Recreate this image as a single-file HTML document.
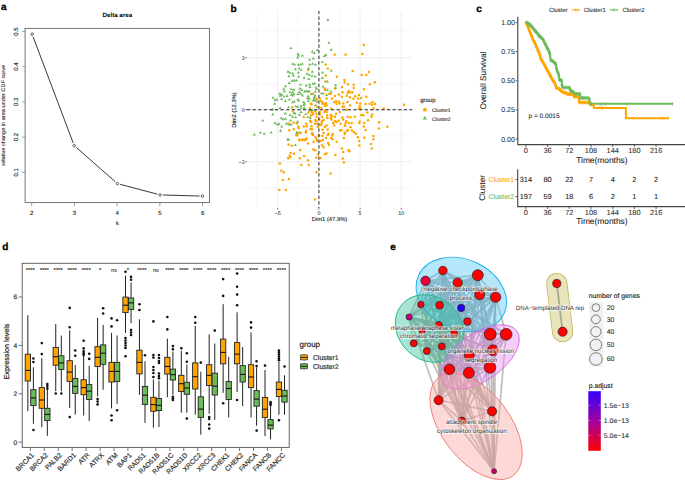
<!DOCTYPE html>
<html><head><meta charset="utf-8"><style>
html,body{margin:0;padding:0;background:#fff;width:685px;height:482px;overflow:hidden}
svg{display:block}
text{font-family:"Liberation Sans",sans-serif;text-rendering:geometricPrecision}
</style></head><body>
<svg width="685" height="482" viewBox="0 0 685 482">
<rect width="685" height="482" fill="#fff"/>
<text x="1" y="10" font-size="10" font-weight="bold" stroke="#000" stroke-width="0.3" font-family="Liberation Sans, sans-serif">a</text>
<text x="117.3" y="16.8" font-size="6.2" font-weight="bold" text-anchor="middle" font-family="Liberation Sans, sans-serif">Delta area</text>
<rect x="25.1" y="28.4" width="184.4" height="174.2" fill="none" stroke="#666" stroke-width="0.9"/>
<line x1="22.2" y1="172.30" x2="25.1" y2="172.30" stroke="#888" stroke-width="0.8"/>
<text transform="translate(17.8,172.30) rotate(-90)" font-size="6" text-anchor="middle" fill="#222" font-family="Liberation Sans, sans-serif" stroke="#222" stroke-width="0.12">0.1</text>
<line x1="22.2" y1="137.10" x2="25.1" y2="137.10" stroke="#888" stroke-width="0.8"/>
<text transform="translate(17.8,137.10) rotate(-90)" font-size="6" text-anchor="middle" fill="#222" font-family="Liberation Sans, sans-serif" stroke="#222" stroke-width="0.12">0.2</text>
<line x1="22.2" y1="101.90" x2="25.1" y2="101.90" stroke="#888" stroke-width="0.8"/>
<text transform="translate(17.8,101.90) rotate(-90)" font-size="6" text-anchor="middle" fill="#222" font-family="Liberation Sans, sans-serif" stroke="#222" stroke-width="0.12">0.3</text>
<line x1="22.2" y1="66.70" x2="25.1" y2="66.70" stroke="#888" stroke-width="0.8"/>
<text transform="translate(17.8,66.70) rotate(-90)" font-size="6" text-anchor="middle" fill="#222" font-family="Liberation Sans, sans-serif" stroke="#222" stroke-width="0.12">0.4</text>
<line x1="22.2" y1="31.50" x2="25.1" y2="31.50" stroke="#888" stroke-width="0.8"/>
<text transform="translate(17.8,31.50) rotate(-90)" font-size="6" text-anchor="middle" fill="#222" font-family="Liberation Sans, sans-serif" stroke="#222" stroke-width="0.12">0.5</text>
<line x1="31.70" y1="202.6" x2="31.70" y2="206.2" stroke="#888" stroke-width="0.8"/>
<text x="31.70" y="215.2" font-size="6" text-anchor="middle" fill="#222" font-family="Liberation Sans, sans-serif" stroke="#222" stroke-width="0.12">2</text>
<line x1="74.42" y1="202.6" x2="74.42" y2="206.2" stroke="#888" stroke-width="0.8"/>
<text x="74.42" y="215.2" font-size="6" text-anchor="middle" fill="#222" font-family="Liberation Sans, sans-serif" stroke="#222" stroke-width="0.12">3</text>
<line x1="117.14" y1="202.6" x2="117.14" y2="206.2" stroke="#888" stroke-width="0.8"/>
<text x="117.14" y="215.2" font-size="6" text-anchor="middle" fill="#222" font-family="Liberation Sans, sans-serif" stroke="#222" stroke-width="0.12">4</text>
<line x1="159.86" y1="202.6" x2="159.86" y2="206.2" stroke="#888" stroke-width="0.8"/>
<text x="159.86" y="215.2" font-size="6" text-anchor="middle" fill="#222" font-family="Liberation Sans, sans-serif" stroke="#222" stroke-width="0.12">5</text>
<line x1="202.58" y1="202.6" x2="202.58" y2="206.2" stroke="#888" stroke-width="0.8"/>
<text x="202.58" y="215.2" font-size="6" text-anchor="middle" fill="#222" font-family="Liberation Sans, sans-serif" stroke="#222" stroke-width="0.12">6</text>
<text x="117.3" y="224.5" font-size="5.6" text-anchor="middle" fill="#222" font-family="Liberation Sans, sans-serif" stroke="#222" stroke-width="0.12">k</text>
<text transform="translate(5.0,115.3) rotate(-90)" font-size="5.3" text-anchor="middle" fill="#333" textLength="100.8" lengthAdjust="spacingAndGlyphs" font-family="Liberation Sans, sans-serif" stroke="#333" stroke-width="0.12">relative change in area under CDF curve</text>
<line x1="33.09" y1="36.82" x2="73.21" y2="142.98" stroke="#222" stroke-width="0.9"/>
<line x1="76.30" y1="147.45" x2="115.30" y2="181.75" stroke="#222" stroke-width="0.9"/>
<line x1="120.11" y1="184.32" x2="157.39" y2="194.18" stroke="#222" stroke-width="0.9"/>
<line x1="162.90" y1="194.98" x2="199.60" y2="196.02" stroke="#222" stroke-width="0.9"/>
<circle cx="32.10" cy="34.20" r="1.25" fill="none" stroke="#222" stroke-width="0.7"/>
<circle cx="74.20" cy="145.60" r="1.25" fill="none" stroke="#222" stroke-width="0.7"/>
<circle cx="117.40" cy="183.60" r="1.25" fill="none" stroke="#222" stroke-width="0.7"/>
<circle cx="160.10" cy="194.90" r="1.25" fill="none" stroke="#222" stroke-width="0.7"/>
<circle cx="202.40" cy="196.10" r="1.25" fill="none" stroke="#222" stroke-width="0.7"/>
<text x="230.5" y="11.5" font-size="10" font-weight="bold" stroke="#000" stroke-width="0.3" font-family="Liberation Sans, sans-serif">b</text>
<line x1="257.10" y1="10.9" x2="257.10" y2="208.0" stroke="#F2F2F2" stroke-width="0.6"/>
<line x1="298.30" y1="10.9" x2="298.30" y2="208.0" stroke="#F2F2F2" stroke-width="0.6"/>
<line x1="339.50" y1="10.9" x2="339.50" y2="208.0" stroke="#F2F2F2" stroke-width="0.6"/>
<line x1="380.70" y1="10.9" x2="380.70" y2="208.0" stroke="#F2F2F2" stroke-width="0.6"/>
<line x1="247.0" y1="187.69" x2="411.9" y2="187.69" stroke="#F2F2F2" stroke-width="0.6"/>
<line x1="247.0" y1="135.69" x2="411.9" y2="135.69" stroke="#F2F2F2" stroke-width="0.6"/>
<line x1="247.0" y1="83.71" x2="411.9" y2="83.71" stroke="#F2F2F2" stroke-width="0.6"/>
<line x1="247.0" y1="31.72" x2="411.9" y2="31.72" stroke="#F2F2F2" stroke-width="0.6"/>
<line x1="277.70" y1="10.9" x2="277.70" y2="208.0" stroke="#E8E8E8" stroke-width="0.8"/>
<line x1="318.90" y1="10.9" x2="318.90" y2="208.0" stroke="#E8E8E8" stroke-width="0.8"/>
<line x1="360.10" y1="10.9" x2="360.10" y2="208.0" stroke="#E8E8E8" stroke-width="0.8"/>
<line x1="401.30" y1="10.9" x2="401.30" y2="208.0" stroke="#E8E8E8" stroke-width="0.8"/>
<line x1="247.0" y1="161.69" x2="411.9" y2="161.69" stroke="#E8E8E8" stroke-width="0.8"/>
<line x1="247.0" y1="109.70" x2="411.9" y2="109.70" stroke="#E8E8E8" stroke-width="0.8"/>
<line x1="247.0" y1="57.71" x2="411.9" y2="57.71" stroke="#E8E8E8" stroke-width="0.8"/>
<line x1="277.70" y1="208" x2="277.70" y2="209.5" stroke="#333" stroke-width="0.7"/>
<text x="277.70" y="215.2" font-size="5.3" text-anchor="middle" fill="#4D4D4D" font-family="Liberation Sans, sans-serif" stroke="#4D4D4D" stroke-width="0.12">−5</text>
<line x1="318.90" y1="208" x2="318.90" y2="209.5" stroke="#333" stroke-width="0.7"/>
<text x="318.90" y="215.2" font-size="5.3" text-anchor="middle" fill="#4D4D4D" font-family="Liberation Sans, sans-serif" stroke="#4D4D4D" stroke-width="0.12">0</text>
<line x1="360.10" y1="208" x2="360.10" y2="209.5" stroke="#333" stroke-width="0.7"/>
<text x="360.10" y="215.2" font-size="5.3" text-anchor="middle" fill="#4D4D4D" font-family="Liberation Sans, sans-serif" stroke="#4D4D4D" stroke-width="0.12">5</text>
<line x1="401.30" y1="208" x2="401.30" y2="209.5" stroke="#333" stroke-width="0.7"/>
<text x="401.30" y="215.2" font-size="5.3" text-anchor="middle" fill="#4D4D4D" font-family="Liberation Sans, sans-serif" stroke="#4D4D4D" stroke-width="0.12">10</text>
<line x1="245.5" y1="161.69" x2="247" y2="161.69" stroke="#333" stroke-width="0.7"/>
<text x="244.6" y="163.59" font-size="5.3" text-anchor="end" fill="#4D4D4D" font-family="Liberation Sans, sans-serif" stroke="#4D4D4D" stroke-width="0.12">−3</text>
<line x1="245.5" y1="109.70" x2="247" y2="109.70" stroke="#333" stroke-width="0.7"/>
<text x="244.6" y="111.60" font-size="5.3" text-anchor="end" fill="#4D4D4D" font-family="Liberation Sans, sans-serif" stroke="#4D4D4D" stroke-width="0.12">0</text>
<line x1="245.5" y1="57.71" x2="247" y2="57.71" stroke="#333" stroke-width="0.7"/>
<text x="244.6" y="59.61" font-size="5.3" text-anchor="end" fill="#4D4D4D" font-family="Liberation Sans, sans-serif" stroke="#4D4D4D" stroke-width="0.12">3</text>
<text x="329.5" y="221.4" font-size="5.8" text-anchor="middle" fill="#222" font-family="Liberation Sans, sans-serif" stroke="#222" stroke-width="0.12">Dim1 (47.9%)</text>
<text transform="translate(236.3,110) rotate(-90)" font-size="5.8" text-anchor="middle" fill="#222" font-family="Liberation Sans, sans-serif" stroke="#222" stroke-width="0.12">Dim2 (12.3%)</text>
<circle cx="302.7" cy="139.9" r="1.25" fill="#FFA500"/>
<circle cx="305.6" cy="139.4" r="1.25" fill="#FFA500"/>
<circle cx="298.4" cy="126.8" r="1.25" fill="#FFA500"/>
<circle cx="300.6" cy="132.9" r="1.25" fill="#FFA500"/>
<circle cx="297.3" cy="135.5" r="1.25" fill="#FFA500"/>
<circle cx="310.4" cy="129.0" r="1.25" fill="#FFA500"/>
<circle cx="312.5" cy="133.3" r="1.25" fill="#FFA500"/>
<circle cx="334.7" cy="54.6" r="1.25" fill="#FFA500"/>
<circle cx="325.8" cy="64.4" r="1.25" fill="#FFA500"/>
<circle cx="327.9" cy="68.5" r="1.25" fill="#FFA500"/>
<circle cx="325.8" cy="75.4" r="1.25" fill="#FFA500"/>
<circle cx="336.8" cy="76.8" r="1.25" fill="#FFA500"/>
<circle cx="325.4" cy="81.6" r="1.25" fill="#FFA500"/>
<circle cx="299.3" cy="139.8" r="1.25" fill="#FFA500"/>
<circle cx="302.5" cy="139.6" r="1.25" fill="#FFA500"/>
<circle cx="305.6" cy="139.2" r="1.25" fill="#FFA500"/>
<circle cx="306.8" cy="138.6" r="1.25" fill="#FFA500"/>
<circle cx="296.2" cy="134.9" r="1.25" fill="#FFA500"/>
<circle cx="299.3" cy="132.4" r="1.25" fill="#FFA500"/>
<circle cx="305.6" cy="132.4" r="1.25" fill="#FFA500"/>
<circle cx="306.2" cy="131.1" r="1.25" fill="#FFA500"/>
<circle cx="311.8" cy="129.2" r="1.25" fill="#FFA500"/>
<circle cx="311.8" cy="133.6" r="1.25" fill="#FFA500"/>
<circle cx="313.0" cy="134.9" r="1.25" fill="#FFA500"/>
<circle cx="315.5" cy="137.3" r="1.25" fill="#FFA500"/>
<circle cx="316.8" cy="139.2" r="1.25" fill="#FFA500"/>
<circle cx="298.7" cy="128.0" r="1.25" fill="#FFA500"/>
<circle cx="296.8" cy="123.6" r="1.25" fill="#FFA500"/>
<circle cx="308.0" cy="69.9" r="1.25" fill="#FFA500"/>
<circle cx="292.2" cy="107.2" r="1.25" fill="#FFA500"/>
<circle cx="292.7" cy="111.4" r="1.25" fill="#FFA500"/>
<circle cx="288.6" cy="123.8" r="1.25" fill="#FFA500"/>
<circle cx="293.8" cy="122.8" r="1.25" fill="#FFA500"/>
<circle cx="289.1" cy="130.3" r="1.25" fill="#FFA500"/>
<circle cx="293.8" cy="129.2" r="1.25" fill="#FFA500"/>
<circle cx="363.7" cy="45.0" r="1.25" fill="#FFA500"/>
<circle cx="345.6" cy="54.7" r="1.25" fill="#FFA500"/>
<circle cx="362.4" cy="53.9" r="1.25" fill="#FFA500"/>
<circle cx="352.7" cy="70.9" r="1.25" fill="#FFA500"/>
<circle cx="368.9" cy="72.1" r="1.25" fill="#FFA500"/>
<circle cx="361.8" cy="74.9" r="1.25" fill="#FFA500"/>
<circle cx="366.4" cy="74.9" r="1.25" fill="#FFA500"/>
<circle cx="344.4" cy="80.1" r="1.25" fill="#FFA500"/>
<circle cx="344.7" cy="82.6" r="1.25" fill="#FFA500"/>
<circle cx="348.1" cy="84.2" r="1.25" fill="#FFA500"/>
<circle cx="353.7" cy="84.8" r="1.25" fill="#FFA500"/>
<circle cx="369.9" cy="84.2" r="1.25" fill="#FFA500"/>
<circle cx="374.9" cy="82.3" r="1.25" fill="#FFA500"/>
<circle cx="341.9" cy="87.1" r="1.25" fill="#FFA500"/>
<circle cx="353.7" cy="87.9" r="1.25" fill="#FFA500"/>
<circle cx="363.9" cy="89.2" r="1.25" fill="#FFA500"/>
<circle cx="348.7" cy="91.1" r="1.25" fill="#FFA500"/>
<circle cx="347.7" cy="92.9" r="1.25" fill="#FFA500"/>
<circle cx="350.0" cy="92.6" r="1.25" fill="#FFA500"/>
<circle cx="352.2" cy="92.3" r="1.25" fill="#FFA500"/>
<circle cx="346.8" cy="95.8" r="1.25" fill="#FFA500"/>
<circle cx="350.0" cy="97.3" r="1.25" fill="#FFA500"/>
<circle cx="355.2" cy="96.3" r="1.25" fill="#FFA500"/>
<circle cx="358.9" cy="95.0" r="1.25" fill="#FFA500"/>
<circle cx="366.4" cy="96.7" r="1.25" fill="#FFA500"/>
<circle cx="353.4" cy="98.8" r="1.25" fill="#FFA500"/>
<circle cx="358.1" cy="98.8" r="1.25" fill="#FFA500"/>
<circle cx="361.2" cy="97.9" r="1.25" fill="#FFA500"/>
<circle cx="347.5" cy="101.9" r="1.25" fill="#FFA500"/>
<circle cx="356.8" cy="102.7" r="1.25" fill="#FFA500"/>
<circle cx="360.2" cy="103.5" r="1.25" fill="#FFA500"/>
<circle cx="350.0" cy="105.6" r="1.25" fill="#FFA500"/>
<circle cx="365.5" cy="104.0" r="1.25" fill="#FFA500"/>
<circle cx="369.7" cy="103.7" r="1.25" fill="#FFA500"/>
<circle cx="372.4" cy="102.2" r="1.25" fill="#FFA500"/>
<circle cx="372.1" cy="104.7" r="1.25" fill="#FFA500"/>
<circle cx="375.1" cy="104.0" r="1.25" fill="#FFA500"/>
<circle cx="359.7" cy="106.0" r="1.25" fill="#FFA500"/>
<circle cx="358.7" cy="108.5" r="1.25" fill="#FFA500"/>
<circle cx="360.6" cy="108.5" r="1.25" fill="#FFA500"/>
<circle cx="373.4" cy="108.5" r="1.25" fill="#FFA500"/>
<circle cx="383.6" cy="108.5" r="1.25" fill="#FFA500"/>
<circle cx="404.2" cy="104.7" r="1.25" fill="#FFA500"/>
<circle cx="346.5" cy="109.7" r="1.25" fill="#FFA500"/>
<circle cx="367.2" cy="112.5" r="1.25" fill="#FFA500"/>
<circle cx="361.2" cy="114.9" r="1.25" fill="#FFA500"/>
<circle cx="363.4" cy="115.2" r="1.25" fill="#FFA500"/>
<circle cx="372.1" cy="114.7" r="1.25" fill="#FFA500"/>
<circle cx="371.4" cy="116.8" r="1.25" fill="#FFA500"/>
<circle cx="347.7" cy="116.8" r="1.25" fill="#FFA500"/>
<circle cx="350.6" cy="117.2" r="1.25" fill="#FFA500"/>
<circle cx="354.7" cy="116.8" r="1.25" fill="#FFA500"/>
<circle cx="368.0" cy="120.2" r="1.25" fill="#FFA500"/>
<circle cx="379.2" cy="122.2" r="1.25" fill="#FFA500"/>
<circle cx="346.2" cy="121.2" r="1.25" fill="#FFA500"/>
<circle cx="345.6" cy="123.0" r="1.25" fill="#FFA500"/>
<circle cx="349.0" cy="123.0" r="1.25" fill="#FFA500"/>
<circle cx="351.8" cy="123.0" r="1.25" fill="#FFA500"/>
<circle cx="359.7" cy="121.8" r="1.25" fill="#FFA500"/>
<circle cx="359.3" cy="123.0" r="1.25" fill="#FFA500"/>
<circle cx="364.3" cy="123.0" r="1.25" fill="#FFA500"/>
<circle cx="387.3" cy="126.8" r="1.25" fill="#FFA500"/>
<circle cx="378.9" cy="128.6" r="1.25" fill="#FFA500"/>
<circle cx="299.8" cy="140.3" r="1.25" fill="#FFA500"/>
<circle cx="304.9" cy="140.3" r="1.25" fill="#FFA500"/>
<circle cx="313.6" cy="141.7" r="1.25" fill="#FFA500"/>
<circle cx="317.2" cy="140.7" r="1.25" fill="#FFA500"/>
<circle cx="288.6" cy="144.4" r="1.25" fill="#FFA500"/>
<circle cx="291.8" cy="145.8" r="1.25" fill="#FFA500"/>
<circle cx="308.0" cy="143.6" r="1.25" fill="#FFA500"/>
<circle cx="300.2" cy="149.9" r="1.25" fill="#FFA500"/>
<circle cx="313.3" cy="149.4" r="1.25" fill="#FFA500"/>
<circle cx="315.3" cy="150.2" r="1.25" fill="#FFA500"/>
<circle cx="290.6" cy="153.1" r="1.25" fill="#FFA500"/>
<circle cx="294.0" cy="153.8" r="1.25" fill="#FFA500"/>
<circle cx="289.6" cy="155.7" r="1.25" fill="#FFA500"/>
<circle cx="290.3" cy="157.1" r="1.25" fill="#FFA500"/>
<circle cx="288.2" cy="158.2" r="1.25" fill="#FFA500"/>
<circle cx="299.8" cy="158.2" r="1.25" fill="#FFA500"/>
<circle cx="304.1" cy="156.0" r="1.25" fill="#FFA500"/>
<circle cx="308.0" cy="160.3" r="1.25" fill="#FFA500"/>
<circle cx="316.2" cy="157.7" r="1.25" fill="#FFA500"/>
<circle cx="317.9" cy="154.5" r="1.25" fill="#FFA500"/>
<circle cx="279.9" cy="163.5" r="1.25" fill="#FFA500"/>
<circle cx="301.2" cy="165.0" r="1.25" fill="#FFA500"/>
<circle cx="308.9" cy="165.0" r="1.25" fill="#FFA500"/>
<circle cx="281.3" cy="170.8" r="1.25" fill="#FFA500"/>
<circle cx="283.8" cy="172.2" r="1.25" fill="#FFA500"/>
<circle cx="316.5" cy="172.2" r="1.25" fill="#FFA500"/>
<circle cx="288.9" cy="178.9" r="1.25" fill="#FFA500"/>
<circle cx="282.8" cy="179.9" r="1.25" fill="#FFA500"/>
<circle cx="279.4" cy="190.1" r="1.25" fill="#FFA500"/>
<circle cx="286.0" cy="190.1" r="1.25" fill="#FFA500"/>
<circle cx="315.0" cy="199.5" r="1.25" fill="#FFA500"/>
<circle cx="345.1" cy="125.6" r="1.25" fill="#FFA500"/>
<circle cx="350.6" cy="127.2" r="1.25" fill="#FFA500"/>
<circle cx="363.8" cy="126.5" r="1.25" fill="#FFA500"/>
<circle cx="322.7" cy="129.7" r="1.25" fill="#FFA500"/>
<circle cx="327.7" cy="129.4" r="1.25" fill="#FFA500"/>
<circle cx="340.2" cy="130.6" r="1.25" fill="#FFA500"/>
<circle cx="341.7" cy="130.0" r="1.25" fill="#FFA500"/>
<circle cx="347.9" cy="130.0" r="1.25" fill="#FFA500"/>
<circle cx="346.9" cy="131.0" r="1.25" fill="#FFA500"/>
<circle cx="351.9" cy="130.2" r="1.25" fill="#FFA500"/>
<circle cx="353.9" cy="132.2" r="1.25" fill="#FFA500"/>
<circle cx="356.0" cy="133.7" r="1.25" fill="#FFA500"/>
<circle cx="365.6" cy="130.0" r="1.25" fill="#FFA500"/>
<circle cx="323.6" cy="133.1" r="1.25" fill="#FFA500"/>
<circle cx="328.6" cy="133.7" r="1.25" fill="#FFA500"/>
<circle cx="327.7" cy="135.0" r="1.25" fill="#FFA500"/>
<circle cx="332.7" cy="134.0" r="1.25" fill="#FFA500"/>
<circle cx="332.3" cy="135.6" r="1.25" fill="#FFA500"/>
<circle cx="344.8" cy="132.7" r="1.25" fill="#FFA500"/>
<circle cx="344.8" cy="134.0" r="1.25" fill="#FFA500"/>
<circle cx="322.4" cy="136.0" r="1.25" fill="#FFA500"/>
<circle cx="319.0" cy="135.6" r="1.25" fill="#FFA500"/>
<circle cx="326.1" cy="138.1" r="1.25" fill="#FFA500"/>
<circle cx="331.1" cy="138.1" r="1.25" fill="#FFA500"/>
<circle cx="332.7" cy="139.3" r="1.25" fill="#FFA500"/>
<circle cx="343.9" cy="138.1" r="1.25" fill="#FFA500"/>
<circle cx="357.9" cy="137.2" r="1.25" fill="#FFA500"/>
<circle cx="364.3" cy="137.8" r="1.25" fill="#FFA500"/>
<circle cx="373.4" cy="136.0" r="1.25" fill="#FFA500"/>
<circle cx="373.4" cy="139.3" r="1.25" fill="#FFA500"/>
<circle cx="323.0" cy="140.0" r="1.25" fill="#FFA500"/>
<circle cx="320.7" cy="141.0" r="1.25" fill="#FFA500"/>
<circle cx="336.7" cy="141.8" r="1.25" fill="#FFA500"/>
<circle cx="328.0" cy="143.1" r="1.25" fill="#FFA500"/>
<circle cx="329.0" cy="144.7" r="1.25" fill="#FFA500"/>
<circle cx="359.1" cy="140.9" r="1.25" fill="#FFA500"/>
<circle cx="359.3" cy="145.5" r="1.25" fill="#FFA500"/>
<circle cx="370.9" cy="143.9" r="1.25" fill="#FFA500"/>
<circle cx="322.0" cy="145.2" r="1.25" fill="#FFA500"/>
<circle cx="323.6" cy="147.2" r="1.25" fill="#FFA500"/>
<circle cx="341.9" cy="148.4" r="1.25" fill="#FFA500"/>
<circle cx="371.8" cy="148.4" r="1.25" fill="#FFA500"/>
<circle cx="348.5" cy="149.9" r="1.25" fill="#FFA500"/>
<circle cx="349.4" cy="151.2" r="1.25" fill="#FFA500"/>
<circle cx="343.2" cy="152.1" r="1.25" fill="#FFA500"/>
<circle cx="324.8" cy="154.3" r="1.25" fill="#FFA500"/>
<circle cx="326.5" cy="153.4" r="1.25" fill="#FFA500"/>
<circle cx="335.4" cy="155.1" r="1.25" fill="#FFA500"/>
<circle cx="320.7" cy="158.0" r="1.25" fill="#FFA500"/>
<circle cx="342.7" cy="158.4" r="1.25" fill="#FFA500"/>
<circle cx="343.9" cy="162.4" r="1.25" fill="#FFA500"/>
<circle cx="330.7" cy="173.6" r="1.25" fill="#FFA500"/>
<circle cx="312.9" cy="93.8" r="1.25" fill="#FFA500"/>
<circle cx="319.9" cy="98.4" r="1.25" fill="#FFA500"/>
<circle cx="317.0" cy="98.8" r="1.25" fill="#FFA500"/>
<circle cx="317.0" cy="101.7" r="1.25" fill="#FFA500"/>
<circle cx="320.8" cy="100.9" r="1.25" fill="#FFA500"/>
<circle cx="322.8" cy="102.5" r="1.25" fill="#FFA500"/>
<circle cx="326.6" cy="98.4" r="1.25" fill="#FFA500"/>
<circle cx="332.0" cy="98.4" r="1.25" fill="#FFA500"/>
<circle cx="334.9" cy="95.9" r="1.25" fill="#FFA500"/>
<circle cx="339.0" cy="94.6" r="1.25" fill="#FFA500"/>
<circle cx="341.9" cy="96.7" r="1.25" fill="#FFA500"/>
<circle cx="342.4" cy="92.2" r="1.25" fill="#FFA500"/>
<circle cx="329.1" cy="93.8" r="1.25" fill="#FFA500"/>
<circle cx="330.7" cy="93.8" r="1.25" fill="#FFA500"/>
<circle cx="323.3" cy="93.8" r="1.25" fill="#FFA500"/>
<circle cx="324.9" cy="90.1" r="1.25" fill="#FFA500"/>
<circle cx="324.9" cy="88.4" r="1.25" fill="#FFA500"/>
<circle cx="334.9" cy="88.4" r="1.25" fill="#FFA500"/>
<circle cx="310.8" cy="103.4" r="1.25" fill="#FFA500"/>
<circle cx="311.6" cy="104.6" r="1.25" fill="#FFA500"/>
<circle cx="322.4" cy="103.8" r="1.25" fill="#FFA500"/>
<circle cx="324.9" cy="104.2" r="1.25" fill="#FFA500"/>
<circle cx="326.2" cy="103.0" r="1.25" fill="#FFA500"/>
<circle cx="326.6" cy="105.4" r="1.25" fill="#FFA500"/>
<circle cx="324.9" cy="105.9" r="1.25" fill="#FFA500"/>
<circle cx="334.1" cy="102.1" r="1.25" fill="#FFA500"/>
<circle cx="336.1" cy="101.3" r="1.25" fill="#FFA500"/>
<circle cx="339.0" cy="101.7" r="1.25" fill="#FFA500"/>
<circle cx="336.5" cy="103.8" r="1.25" fill="#FFA500"/>
<circle cx="339.5" cy="103.4" r="1.25" fill="#FFA500"/>
<circle cx="343.2" cy="103.4" r="1.25" fill="#FFA500"/>
<circle cx="342.4" cy="106.7" r="1.25" fill="#FFA500"/>
<circle cx="344.0" cy="106.7" r="1.25" fill="#FFA500"/>
<circle cx="310.0" cy="107.9" r="1.25" fill="#FFA500"/>
<circle cx="317.0" cy="106.7" r="1.25" fill="#FFA500"/>
<circle cx="321.4" cy="107.8" r="1.25" fill="#FFA500"/>
<circle cx="331.1" cy="108.8" r="1.25" fill="#FFA500"/>
<circle cx="308.3" cy="112.5" r="1.25" fill="#FFA500"/>
<circle cx="311.6" cy="112.1" r="1.25" fill="#FFA500"/>
<circle cx="312.9" cy="113.3" r="1.25" fill="#FFA500"/>
<circle cx="315.4" cy="111.3" r="1.25" fill="#FFA500"/>
<circle cx="319.9" cy="112.1" r="1.25" fill="#FFA500"/>
<circle cx="324.9" cy="110.8" r="1.25" fill="#FFA500"/>
<circle cx="326.6" cy="112.1" r="1.25" fill="#FFA500"/>
<circle cx="324.5" cy="112.1" r="1.25" fill="#FFA500"/>
<circle cx="339.9" cy="112.1" r="1.25" fill="#FFA500"/>
<circle cx="303.7" cy="117.1" r="1.25" fill="#FFA500"/>
<circle cx="310.8" cy="115.4" r="1.25" fill="#FFA500"/>
<circle cx="312.9" cy="114.6" r="1.25" fill="#FFA500"/>
<circle cx="316.6" cy="113.7" r="1.25" fill="#FFA500"/>
<circle cx="316.6" cy="116.7" r="1.25" fill="#FFA500"/>
<circle cx="319.9" cy="114.6" r="1.25" fill="#FFA500"/>
<circle cx="322.0" cy="117.1" r="1.25" fill="#FFA500"/>
<circle cx="327.0" cy="115.4" r="1.25" fill="#FFA500"/>
<circle cx="327.4" cy="117.9" r="1.25" fill="#FFA500"/>
<circle cx="330.7" cy="115.0" r="1.25" fill="#FFA500"/>
<circle cx="332.0" cy="116.2" r="1.25" fill="#FFA500"/>
<circle cx="330.7" cy="117.9" r="1.25" fill="#FFA500"/>
<circle cx="331.6" cy="119.6" r="1.25" fill="#FFA500"/>
<circle cx="334.9" cy="116.7" r="1.25" fill="#FFA500"/>
<circle cx="336.1" cy="113.7" r="1.25" fill="#FFA500"/>
<circle cx="342.4" cy="117.5" r="1.25" fill="#FFA500"/>
<circle cx="343.2" cy="119.6" r="1.25" fill="#FFA500"/>
<circle cx="315.4" cy="120.0" r="1.25" fill="#FFA500"/>
<circle cx="316.2" cy="121.2" r="1.25" fill="#FFA500"/>
<circle cx="319.1" cy="119.6" r="1.25" fill="#FFA500"/>
<circle cx="322.0" cy="121.2" r="1.25" fill="#FFA500"/>
<circle cx="323.7" cy="120.0" r="1.25" fill="#FFA500"/>
<circle cx="310.0" cy="120.8" r="1.25" fill="#FFA500"/>
<circle cx="311.2" cy="122.1" r="1.25" fill="#FFA500"/>
<circle cx="306.2" cy="123.7" r="1.25" fill="#FFA500"/>
<circle cx="306.6" cy="126.2" r="1.25" fill="#FFA500"/>
<circle cx="303.7" cy="126.6" r="1.25" fill="#FFA500"/>
<circle cx="315.0" cy="123.7" r="1.25" fill="#FFA500"/>
<circle cx="317.4" cy="123.7" r="1.25" fill="#FFA500"/>
<circle cx="321.6" cy="122.9" r="1.25" fill="#FFA500"/>
<circle cx="321.2" cy="125.0" r="1.25" fill="#FFA500"/>
<circle cx="326.6" cy="125.4" r="1.25" fill="#FFA500"/>
<circle cx="333.2" cy="122.9" r="1.25" fill="#FFA500"/>
<circle cx="334.9" cy="121.2" r="1.25" fill="#FFA500"/>
<circle cx="336.5" cy="122.1" r="1.25" fill="#FFA500"/>
<circle cx="338.6" cy="120.8" r="1.25" fill="#FFA500"/>
<circle cx="334.1" cy="125.4" r="1.25" fill="#FFA500"/>
<circle cx="340.7" cy="123.7" r="1.25" fill="#FFA500"/>
<circle cx="344.9" cy="125.8" r="1.25" fill="#FFA500"/>
<circle cx="311.6" cy="126.2" r="1.25" fill="#FFA500"/>
<circle cx="317.9" cy="127.0" r="1.25" fill="#FFA500"/>
<circle cx="324.9" cy="127.0" r="1.25" fill="#FFA500"/>
<path d="M297.3 131.6l1.6 2.6h-3.2z" fill="#6CBB5A"/>
<path d="M295.1 112.0l1.6 2.6h-3.2z" fill="#6CBB5A"/>
<path d="M299.5 113.1l1.6 2.6h-3.2z" fill="#6CBB5A"/>
<path d="M327.9 18.3l1.6 2.6h-3.2z" fill="#6CBB5A"/>
<path d="M329.0 41.1l1.6 2.6h-3.2z" fill="#6CBB5A"/>
<path d="M325.8 53.5l1.6 2.6h-3.2z" fill="#6CBB5A"/>
<path d="M295.8 104.7l1.6 2.6h-3.2z" fill="#6CBB5A"/>
<path d="M331.2 48.1l1.6 2.6h-3.2z" fill="#6CBB5A"/>
<path d="M325.8 53.5l1.6 2.6h-3.2z" fill="#6CBB5A"/>
<path d="M331.2 68.9l1.6 2.6h-3.2z" fill="#6CBB5A"/>
<path d="M327.4 79.9l1.6 2.6h-3.2z" fill="#6CBB5A"/>
<path d="M335.7 83.4l1.6 2.6h-3.2z" fill="#6CBB5A"/>
<path d="M335.7 86.1l1.6 2.6h-3.2z" fill="#6CBB5A"/>
<path d="M298.7 98.9l1.6 2.6h-3.2z" fill="#6CBB5A"/>
<path d="M297.5 105.1l1.6 2.6h-3.2z" fill="#6CBB5A"/>
<path d="M295.6 115.7l1.6 2.6h-3.2z" fill="#6CBB5A"/>
<path d="M297.5 120.1l1.6 2.6h-3.2z" fill="#6CBB5A"/>
<path d="M296.8 130.7l1.6 2.6h-3.2z" fill="#6CBB5A"/>
<path d="M290.9 46.4l1.6 2.6h-3.2z" fill="#6CBB5A"/>
<path d="M298.0 52.3l1.6 2.6h-3.2z" fill="#6CBB5A"/>
<path d="M298.6 53.9l1.6 2.6h-3.2z" fill="#6CBB5A"/>
<path d="M297.6 56.0l1.6 2.6h-3.2z" fill="#6CBB5A"/>
<path d="M302.4 53.9l1.6 2.6h-3.2z" fill="#6CBB5A"/>
<path d="M312.3 49.8l1.6 2.6h-3.2z" fill="#6CBB5A"/>
<path d="M314.2 51.4l1.6 2.6h-3.2z" fill="#6CBB5A"/>
<path d="M317.3 48.5l1.6 2.6h-3.2z" fill="#6CBB5A"/>
<path d="M324.5 54.5l1.6 2.6h-3.2z" fill="#6CBB5A"/>
<path d="M309.6 58.0l1.6 2.6h-3.2z" fill="#6CBB5A"/>
<path d="M313.3 57.0l1.6 2.6h-3.2z" fill="#6CBB5A"/>
<path d="M322.3 60.5l1.6 2.6h-3.2z" fill="#6CBB5A"/>
<path d="M292.6 62.2l1.6 2.6h-3.2z" fill="#6CBB5A"/>
<path d="M294.6 63.0l1.6 2.6h-3.2z" fill="#6CBB5A"/>
<path d="M298.4 63.2l1.6 2.6h-3.2z" fill="#6CBB5A"/>
<path d="M300.5 63.0l1.6 2.6h-3.2z" fill="#6CBB5A"/>
<path d="M302.4 62.2l1.6 2.6h-3.2z" fill="#6CBB5A"/>
<path d="M309.8 63.0l1.6 2.6h-3.2z" fill="#6CBB5A"/>
<path d="M312.6 62.2l1.6 2.6h-3.2z" fill="#6CBB5A"/>
<path d="M315.4 63.0l1.6 2.6h-3.2z" fill="#6CBB5A"/>
<path d="M295.5 67.6l1.6 2.6h-3.2z" fill="#6CBB5A"/>
<path d="M299.2 66.7l1.6 2.6h-3.2z" fill="#6CBB5A"/>
<path d="M301.1 68.2l1.6 2.6h-3.2z" fill="#6CBB5A"/>
<path d="M308.6 66.7l1.6 2.6h-3.2z" fill="#6CBB5A"/>
<path d="M312.3 70.1l1.6 2.6h-3.2z" fill="#6CBB5A"/>
<path d="M288.0 70.1l1.6 2.6h-3.2z" fill="#6CBB5A"/>
<path d="M289.9 70.9l1.6 2.6h-3.2z" fill="#6CBB5A"/>
<path d="M292.6 71.7l1.6 2.6h-3.2z" fill="#6CBB5A"/>
<path d="M298.4 70.9l1.6 2.6h-3.2z" fill="#6CBB5A"/>
<path d="M322.5 70.9l1.6 2.6h-3.2z" fill="#6CBB5A"/>
<path d="M288.9 74.7l1.6 2.6h-3.2z" fill="#6CBB5A"/>
<path d="M293.4 73.8l1.6 2.6h-3.2z" fill="#6CBB5A"/>
<path d="M298.6 75.0l1.6 2.6h-3.2z" fill="#6CBB5A"/>
<path d="M307.1 72.2l1.6 2.6h-3.2z" fill="#6CBB5A"/>
<path d="M309.2 73.2l1.6 2.6h-3.2z" fill="#6CBB5A"/>
<path d="M312.1 74.2l1.6 2.6h-3.2z" fill="#6CBB5A"/>
<path d="M315.1 75.0l1.6 2.6h-3.2z" fill="#6CBB5A"/>
<path d="M304.2 76.3l1.6 2.6h-3.2z" fill="#6CBB5A"/>
<path d="M308.8 77.5l1.6 2.6h-3.2z" fill="#6CBB5A"/>
<path d="M322.3 76.3l1.6 2.6h-3.2z" fill="#6CBB5A"/>
<path d="M292.1 79.1l1.6 2.6h-3.2z" fill="#6CBB5A"/>
<path d="M294.3 78.8l1.6 2.6h-3.2z" fill="#6CBB5A"/>
<path d="M296.4 78.8l1.6 2.6h-3.2z" fill="#6CBB5A"/>
<path d="M289.3 81.3l1.6 2.6h-3.2z" fill="#6CBB5A"/>
<path d="M300.5 82.9l1.6 2.6h-3.2z" fill="#6CBB5A"/>
<path d="M306.3 83.8l1.6 2.6h-3.2z" fill="#6CBB5A"/>
<path d="M309.6 83.1l1.6 2.6h-3.2z" fill="#6CBB5A"/>
<path d="M313.0 82.1l1.6 2.6h-3.2z" fill="#6CBB5A"/>
<path d="M314.8 81.9l1.6 2.6h-3.2z" fill="#6CBB5A"/>
<path d="M322.9 85.0l1.6 2.6h-3.2z" fill="#6CBB5A"/>
<path d="M285.5 84.6l1.6 2.6h-3.2z" fill="#6CBB5A"/>
<path d="M291.2 87.5l1.6 2.6h-3.2z" fill="#6CBB5A"/>
<path d="M293.9 88.1l1.6 2.6h-3.2z" fill="#6CBB5A"/>
<path d="M299.9 86.9l1.6 2.6h-3.2z" fill="#6CBB5A"/>
<path d="M310.1 85.4l1.6 2.6h-3.2z" fill="#6CBB5A"/>
<path d="M316.1 85.9l1.6 2.6h-3.2z" fill="#6CBB5A"/>
<path d="M283.7 87.5l1.6 2.6h-3.2z" fill="#6CBB5A"/>
<path d="M284.3 89.6l1.6 2.6h-3.2z" fill="#6CBB5A"/>
<path d="M289.9 90.4l1.6 2.6h-3.2z" fill="#6CBB5A"/>
<path d="M292.6 90.6l1.6 2.6h-3.2z" fill="#6CBB5A"/>
<path d="M299.2 90.4l1.6 2.6h-3.2z" fill="#6CBB5A"/>
<path d="M279.9 92.1l1.6 2.6h-3.2z" fill="#6CBB5A"/>
<path d="M281.8 93.1l1.6 2.6h-3.2z" fill="#6CBB5A"/>
<path d="M291.4 93.1l1.6 2.6h-3.2z" fill="#6CBB5A"/>
<path d="M293.9 92.5l1.6 2.6h-3.2z" fill="#6CBB5A"/>
<path d="M298.0 92.5l1.6 2.6h-3.2z" fill="#6CBB5A"/>
<path d="M298.0 97.8l1.6 2.6h-3.2z" fill="#6CBB5A"/>
<path d="M273.0 96.2l1.6 2.6h-3.2z" fill="#6CBB5A"/>
<path d="M275.1 98.5l1.6 2.6h-3.2z" fill="#6CBB5A"/>
<path d="M277.0 98.0l1.6 2.6h-3.2z" fill="#6CBB5A"/>
<path d="M274.6 102.1l1.6 2.6h-3.2z" fill="#6CBB5A"/>
<path d="M281.5 97.4l1.6 2.6h-3.2z" fill="#6CBB5A"/>
<path d="M280.3 94.1l1.6 2.6h-3.2z" fill="#6CBB5A"/>
<path d="M283.9 94.9l1.6 2.6h-3.2z" fill="#6CBB5A"/>
<path d="M287.0 94.3l1.6 2.6h-3.2z" fill="#6CBB5A"/>
<path d="M285.5 99.3l1.6 2.6h-3.2z" fill="#6CBB5A"/>
<path d="M289.4 98.0l1.6 2.6h-3.2z" fill="#6CBB5A"/>
<path d="M292.9 93.8l1.6 2.6h-3.2z" fill="#6CBB5A"/>
<path d="M292.7 100.6l1.6 2.6h-3.2z" fill="#6CBB5A"/>
<path d="M294.3 100.0l1.6 2.6h-3.2z" fill="#6CBB5A"/>
<path d="M272.5 107.8l1.6 2.6h-3.2z" fill="#6CBB5A"/>
<path d="M280.1 106.3l1.6 2.6h-3.2z" fill="#6CBB5A"/>
<path d="M288.6 105.7l1.6 2.6h-3.2z" fill="#6CBB5A"/>
<path d="M272.8 112.8l1.6 2.6h-3.2z" fill="#6CBB5A"/>
<path d="M285.2 111.8l1.6 2.6h-3.2z" fill="#6CBB5A"/>
<path d="M290.1 113.5l1.6 2.6h-3.2z" fill="#6CBB5A"/>
<path d="M292.5 115.1l1.6 2.6h-3.2z" fill="#6CBB5A"/>
<path d="M294.3 111.5l1.6 2.6h-3.2z" fill="#6CBB5A"/>
<path d="M262.8 119.0l1.6 2.6h-3.2z" fill="#6CBB5A"/>
<path d="M281.3 116.6l1.6 2.6h-3.2z" fill="#6CBB5A"/>
<path d="M283.2 117.7l1.6 2.6h-3.2z" fill="#6CBB5A"/>
<path d="M285.5 117.2l1.6 2.6h-3.2z" fill="#6CBB5A"/>
<path d="M290.6 119.0l1.6 2.6h-3.2z" fill="#6CBB5A"/>
<path d="M275.1 121.3l1.6 2.6h-3.2z" fill="#6CBB5A"/>
<path d="M277.2 122.9l1.6 2.6h-3.2z" fill="#6CBB5A"/>
<path d="M279.0 122.3l1.6 2.6h-3.2z" fill="#6CBB5A"/>
<path d="M281.8 124.9l1.6 2.6h-3.2z" fill="#6CBB5A"/>
<path d="M286.5 122.1l1.6 2.6h-3.2z" fill="#6CBB5A"/>
<path d="M289.6 122.9l1.6 2.6h-3.2z" fill="#6CBB5A"/>
<path d="M291.2 122.9l1.6 2.6h-3.2z" fill="#6CBB5A"/>
<path d="M280.6 129.1l1.6 2.6h-3.2z" fill="#6CBB5A"/>
<path d="M260.4 130.9l1.6 2.6h-3.2z" fill="#6CBB5A"/>
<path d="M264.2 132.2l1.6 2.6h-3.2z" fill="#6CBB5A"/>
<path d="M271.1 130.9l1.6 2.6h-3.2z" fill="#6CBB5A"/>
<path d="M254.3 132.9l1.6 2.6h-3.2z" fill="#6CBB5A"/>
<path d="M288.0 137.4l1.6 2.6h-3.2z" fill="#6CBB5A"/>
<path d="M295.4 143.4l1.6 2.6h-3.2z" fill="#6CBB5A"/>
<path d="M288.2 138.3l1.6 2.6h-3.2z" fill="#6CBB5A"/>
<path d="M301.7 88.4l1.6 2.6h-3.2z" fill="#6CBB5A"/>
<path d="M304.6 90.0l1.6 2.6h-3.2z" fill="#6CBB5A"/>
<path d="M306.2 89.6l1.6 2.6h-3.2z" fill="#6CBB5A"/>
<path d="M307.9 90.0l1.6 2.6h-3.2z" fill="#6CBB5A"/>
<path d="M309.1 89.6l1.6 2.6h-3.2z" fill="#6CBB5A"/>
<path d="M315.4 90.0l1.6 2.6h-3.2z" fill="#6CBB5A"/>
<path d="M316.6 87.1l1.6 2.6h-3.2z" fill="#6CBB5A"/>
<path d="M300.8 92.1l1.6 2.6h-3.2z" fill="#6CBB5A"/>
<path d="M302.5 93.8l1.6 2.6h-3.2z" fill="#6CBB5A"/>
<path d="M308.3 94.6l1.6 2.6h-3.2z" fill="#6CBB5A"/>
<path d="M311.2 92.5l1.6 2.6h-3.2z" fill="#6CBB5A"/>
<path d="M315.0 93.8l1.6 2.6h-3.2z" fill="#6CBB5A"/>
<path d="M314.5 95.4l1.6 2.6h-3.2z" fill="#6CBB5A"/>
<path d="M307.5 96.3l1.6 2.6h-3.2z" fill="#6CBB5A"/>
<path d="M309.1 97.1l1.6 2.6h-3.2z" fill="#6CBB5A"/>
<path d="M314.1 97.1l1.6 2.6h-3.2z" fill="#6CBB5A"/>
<path d="M313.3 98.8l1.6 2.6h-3.2z" fill="#6CBB5A"/>
<path d="M315.4 98.8l1.6 2.6h-3.2z" fill="#6CBB5A"/>
<path d="M308.3 99.2l1.6 2.6h-3.2z" fill="#6CBB5A"/>
<path d="M303.7 100.4l1.6 2.6h-3.2z" fill="#6CBB5A"/>
<path d="M304.6 102.1l1.6 2.6h-3.2z" fill="#6CBB5A"/>
<path d="M303.7 103.3l1.6 2.6h-3.2z" fill="#6CBB5A"/>
<path d="M300.8 104.2l1.6 2.6h-3.2z" fill="#6CBB5A"/>
<path d="M301.2 106.2l1.6 2.6h-3.2z" fill="#6CBB5A"/>
<path d="M304.2 106.1l1.6 2.6h-3.2z" fill="#6CBB5A"/>
<path d="M315.4 103.7l1.6 2.6h-3.2z" fill="#6CBB5A"/>
<path d="M321.6 91.7l1.6 2.6h-3.2z" fill="#6CBB5A"/>
<path d="M326.6 93.4l1.6 2.6h-3.2z" fill="#6CBB5A"/>
<path d="M327.4 88.4l1.6 2.6h-3.2z" fill="#6CBB5A"/>
<path d="M331.1 90.0l1.6 2.6h-3.2z" fill="#6CBB5A"/>
<path d="M301.2 110.4l1.6 2.6h-3.2z" fill="#6CBB5A"/>
<path d="M309.6 108.7l1.6 2.6h-3.2z" fill="#6CBB5A"/>
<path d="M312.5 108.7l1.6 2.6h-3.2z" fill="#6CBB5A"/>
<path d="M305.8 112.5l1.6 2.6h-3.2z" fill="#6CBB5A"/>
<path d="M307.9 115.4l1.6 2.6h-3.2z" fill="#6CBB5A"/>
<path d="M310.4 116.2l1.6 2.6h-3.2z" fill="#6CBB5A"/>
<line x1="247.0" y1="109.7" x2="412.2" y2="109.7" stroke="#222" stroke-width="1.1" stroke-dasharray="3.2 2.4"/>
<line x1="318.9" y1="10.9" x2="318.9" y2="208.0" stroke="#222" stroke-width="1.1" stroke-dasharray="3.2 2.4" opacity="0.85"/>
<text x="420.2" y="101.8" font-size="6" fill="#222" font-family="Liberation Sans, sans-serif" stroke="#222" stroke-width="0.12">group</text>
<circle cx="424.9" cy="109.7" r="1.9" fill="#FFA500"/>
<path d="M424.9 116.1l2.2 3.5h-4.4z" fill="#6CBB5A"/>
<text x="432" y="111.8" font-size="5.0" fill="#333" font-family="Liberation Sans, sans-serif" stroke="#333" stroke-width="0.12">Cluster1</text>
<text x="432" y="120.6" font-size="5.0" fill="#333" font-family="Liberation Sans, sans-serif" stroke="#333" stroke-width="0.12">Cluster2</text>
<text x="476.3" y="12" font-size="10" font-weight="bold" stroke="#000" stroke-width="0.3" font-family="Liberation Sans, sans-serif">c</text>
<text x="549" y="11.9" font-size="5.9" fill="#222" font-family="Liberation Sans, sans-serif" stroke="#222" stroke-width="0.08">Cluster</text>
<line x1="571.8" y1="9.9" x2="580.1" y2="9.9" stroke="#FFA500" stroke-width="1.2"/>
<line x1="575.9" y1="8.2" x2="575.9" y2="11.6" stroke="#FFA500" stroke-width="0.8"/>
<text x="583.8" y="11.9" font-size="5.9" fill="#222" font-family="Liberation Sans, sans-serif" stroke="#222" stroke-width="0.08">Cluster1</text>
<line x1="610" y1="9.9" x2="618.1" y2="9.9" stroke="#6CBB5A" stroke-width="1.2"/>
<line x1="614" y1="8.2" x2="614" y2="11.6" stroke="#6CBB5A" stroke-width="0.8"/>
<text x="622.5" y="11.9" font-size="5.9" fill="#222" font-family="Liberation Sans, sans-serif" stroke="#222" stroke-width="0.08">Cluster2</text>
<path d="M517.8 16.8V144.6H686" fill="none" stroke="#444" stroke-width="1.1"/>
<line x1="515.6" y1="139.00" x2="517.8" y2="139.00" stroke="#444" stroke-width="0.9"/>
<text x="514.8" y="141.50" font-size="7" text-anchor="end" fill="#333" font-family="Liberation Sans, sans-serif" stroke="#333" stroke-width="0.08">0.00</text>
<line x1="515.6" y1="109.90" x2="517.8" y2="109.90" stroke="#444" stroke-width="0.9"/>
<text x="514.8" y="112.40" font-size="7" text-anchor="end" fill="#333" font-family="Liberation Sans, sans-serif" stroke="#333" stroke-width="0.08">0.25</text>
<line x1="515.6" y1="80.80" x2="517.8" y2="80.80" stroke="#444" stroke-width="0.9"/>
<text x="514.8" y="83.30" font-size="7" text-anchor="end" fill="#333" font-family="Liberation Sans, sans-serif" stroke="#333" stroke-width="0.08">0.50</text>
<line x1="515.6" y1="51.70" x2="517.8" y2="51.70" stroke="#444" stroke-width="0.9"/>
<text x="514.8" y="54.20" font-size="7" text-anchor="end" fill="#333" font-family="Liberation Sans, sans-serif" stroke="#333" stroke-width="0.08">0.75</text>
<line x1="515.6" y1="22.60" x2="517.8" y2="22.60" stroke="#444" stroke-width="0.9"/>
<text x="514.8" y="25.10" font-size="7" text-anchor="end" fill="#333" font-family="Liberation Sans, sans-serif" stroke="#333" stroke-width="0.08">1.00</text>
<line x1="525.90" y1="144.6" x2="525.90" y2="146.9" stroke="#444" stroke-width="0.9"/>
<text x="525.90" y="153.3" font-size="7.4" text-anchor="middle" fill="#333" font-family="Liberation Sans, sans-serif" stroke="#333" stroke-width="0.08">0</text>
<line x1="547.60" y1="144.6" x2="547.60" y2="146.9" stroke="#444" stroke-width="0.9"/>
<text x="547.60" y="153.3" font-size="7.4" text-anchor="middle" fill="#333" font-family="Liberation Sans, sans-serif" stroke="#333" stroke-width="0.08">36</text>
<line x1="569.30" y1="144.6" x2="569.30" y2="146.9" stroke="#444" stroke-width="0.9"/>
<text x="569.30" y="153.3" font-size="7.4" text-anchor="middle" fill="#333" font-family="Liberation Sans, sans-serif" stroke="#333" stroke-width="0.08">72</text>
<line x1="591.00" y1="144.6" x2="591.00" y2="146.9" stroke="#444" stroke-width="0.9"/>
<text x="591.00" y="153.3" font-size="7.4" text-anchor="middle" fill="#333" font-family="Liberation Sans, sans-serif" stroke="#333" stroke-width="0.08">108</text>
<line x1="612.70" y1="144.6" x2="612.70" y2="146.9" stroke="#444" stroke-width="0.9"/>
<text x="612.70" y="153.3" font-size="7.4" text-anchor="middle" fill="#333" font-family="Liberation Sans, sans-serif" stroke="#333" stroke-width="0.08">144</text>
<line x1="634.40" y1="144.6" x2="634.40" y2="146.9" stroke="#444" stroke-width="0.9"/>
<text x="634.40" y="153.3" font-size="7.4" text-anchor="middle" fill="#333" font-family="Liberation Sans, sans-serif" stroke="#333" stroke-width="0.08">180</text>
<line x1="656.10" y1="144.6" x2="656.10" y2="146.9" stroke="#444" stroke-width="0.9"/>
<text x="656.10" y="153.3" font-size="7.4" text-anchor="middle" fill="#333" font-family="Liberation Sans, sans-serif" stroke="#333" stroke-width="0.08">216</text>
<text x="601.9" y="162.9" font-size="8.4" text-anchor="middle" fill="#222" font-family="Liberation Sans, sans-serif" stroke="#222" stroke-width="0.08">Time(months)</text>
<text transform="translate(485.6,80.5) rotate(-90)" font-size="8.3" text-anchor="middle" fill="#222" font-family="Liberation Sans, sans-serif" stroke="#222" stroke-width="0.08">Overall Survival</text>
<text x="528.6" y="117.9" font-size="6.5" fill="#222" font-family="Liberation Sans, sans-serif" stroke="#222" stroke-width="0.08">p = 0.0015</text>
<path d="M525.90 22.60L527.95 22.60L527.95 24.05L530.00 24.05L530.00 25.51L531.37 25.51L531.37 27.14L532.73 27.14L532.73 28.77L534.10 28.77L534.10 30.40L535.35 30.40L535.35 31.88L536.60 31.88L536.60 33.37L537.85 33.37L537.85 34.85L539.10 34.85L539.10 36.34L540.47 36.34L540.47 37.69L541.83 37.69L541.83 39.05L543.20 39.05L543.20 40.41L543.82 40.41L543.82 41.66L544.44 41.66L544.44 42.91L545.05 42.91L545.05 44.16L545.67 44.16L545.67 45.41L546.30 45.41L546.30 46.67L546.94 46.67L546.94 47.92L547.57 47.92L547.57 49.17L548.20 49.17L548.20 50.42L548.77 50.42L548.77 51.78L549.33 51.78L549.33 53.14L549.89 53.14L549.89 54.49L550.09 54.49L550.09 56.06L550.28 56.06L550.28 57.64L550.48 57.64L550.48 59.21L550.68 59.21L550.68 60.78L553.21 60.78L553.21 61.94L554.44 61.94L554.44 63.22L555.68 63.22L555.68 64.50L555.94 64.50L555.94 65.92L556.21 65.92L556.21 67.34L556.47 67.34L556.47 68.76L556.74 68.76L556.74 70.18L557.00 70.18L557.00 71.60L557.79 71.60L557.79 73.23L558.57 73.23L558.57 74.86L558.80 74.86L558.80 76.20L559.02 76.20L559.02 77.54L559.25 77.54L559.25 78.88L559.48 78.88L559.48 80.22L561.59 80.22L561.59 80.92L561.69 80.92L561.69 82.24L561.80 82.24L561.80 83.57L561.91 83.57L561.91 84.90L562.02 84.90L562.02 86.22L562.13 86.22L562.13 87.55L569.48 87.55L569.48 88.02L569.93 88.02L569.93 89.65L570.39 89.65L570.39 91.28L572.80 91.28L572.80 92.09L573.70 92.09L573.70 93.84L579.91 93.84L580.03 93.84L580.03 95.19L580.15 95.19L580.15 96.55L580.27 96.55L580.27 97.91L589.01 97.91L589.01 98.26L589.24 98.26L589.24 99.63L589.47 99.63L589.47 101.00L589.69 101.00L589.69 102.36L589.92 102.36L589.92 103.73L672.38 103.73L672.38 104.08" fill="none" stroke="#6CBB5A" stroke-width="2.0"/>
<path d="M525.90 22.60L526.40 22.60L526.40 23.73L526.89 23.73L526.89 24.87L527.39 24.87L527.39 26.00L527.89 26.00L527.89 27.14L528.31 27.14L528.31 28.28L528.73 28.28L528.73 29.42L529.16 29.42L529.16 30.56L529.58 30.56L529.58 31.70L530.00 31.70L530.00 32.84L530.48 32.84L530.48 34.01L530.96 34.01L530.96 35.17L531.45 35.17L531.45 36.34L531.93 36.34L531.93 37.50L532.41 37.50L532.41 38.66L533.03 38.66L533.03 39.91L533.65 39.91L533.65 41.17L534.26 41.17L534.26 42.42L534.88 42.42L534.88 43.67L535.39 43.67L535.39 44.83L535.89 44.83L535.89 46.00L536.40 46.00L536.40 47.16L536.91 47.16L536.91 48.32L537.41 48.32L537.41 49.49L537.84 49.49L537.84 50.58L538.26 50.58L538.26 51.68L538.68 51.68L538.68 52.77L539.10 52.77L539.10 53.87L539.52 53.87L539.52 54.96L539.95 54.96L539.95 56.21L540.37 56.21L540.37 57.46L540.79 57.46L540.79 58.71L541.21 58.71L541.21 59.96L541.93 59.96L541.93 61.19L542.66 61.19L542.66 62.41L543.38 62.41L543.38 63.63L544.10 63.63L544.10 64.85L544.72 64.85L544.72 66.10L545.34 66.10L545.34 67.36L545.96 67.36L545.96 68.61L546.58 68.61L546.58 69.86L547.31 69.86L547.31 71.11L548.05 71.11L548.05 72.36L548.79 72.36L548.79 73.61L549.53 73.61L549.53 74.86L550.15 74.86L550.15 76.11L550.77 76.11L550.77 77.37L551.38 77.37L551.38 78.62L552.00 78.62L552.00 79.87L553.01 79.87L553.01 81.19L554.01 81.19L554.01 82.51L555.02 82.51L555.02 83.83L555.32 83.83L555.32 84.87L555.62 84.87L555.62 85.92L555.92 85.92L555.92 86.97L556.22 86.97L556.22 88.02L558.27 88.02L558.27 88.83L559.75 88.83L559.75 90.29L561.22 90.29L561.22 91.74L563.27 91.74L563.27 92.91L567.01 92.91L567.01 94.19L571.17 94.19L573.70 94.19L573.70 95.82L574.12 95.82L574.12 96.75L578.71 96.75L578.79 96.75L578.79 97.89L578.87 97.89L578.87 99.03L578.96 99.03L578.96 100.17L579.04 100.17L579.04 101.31L579.13 101.31L579.13 102.45L589.01 102.45L589.01 102.92L589.92 102.92L589.92 104.55L593.17 104.55L593.45 104.55L593.45 105.67L593.74 105.67L593.74 106.80L594.02 106.80L594.02 107.92L625.90 107.92L625.90 118.16L668.76 118.16" fill="none" stroke="#FFA500" stroke-width="2.0"/>
<path d="M526.50 21.93v3.6M525.00 23.73h3" stroke="#FFA500" stroke-width="0.9"/>
<path d="M527.58 24.20v3.6M526.08 26.00h3" stroke="#FFA500" stroke-width="0.9"/>
<path d="M528.60 26.48v3.6M527.10 28.28h3" stroke="#FFA500" stroke-width="0.9"/>
<path d="M529.70 29.90v3.6M528.20 31.70h3" stroke="#FFA500" stroke-width="0.9"/>
<path d="M530.47 31.04v3.6M528.97 32.84h3" stroke="#FFA500" stroke-width="0.9"/>
<path d="M531.61 34.54v3.6M530.11 36.34h3" stroke="#FFA500" stroke-width="0.9"/>
<path d="M531.71 34.54v3.6M530.21 36.34h3" stroke="#FFA500" stroke-width="0.9"/>
<path d="M533.10 38.11v3.6M531.60 39.91h3" stroke="#FFA500" stroke-width="0.9"/>
<path d="M534.53 40.62v3.6M533.03 42.42h3" stroke="#FFA500" stroke-width="0.9"/>
<path d="M535.21 41.87v3.6M533.71 43.67h3" stroke="#FFA500" stroke-width="0.9"/>
<path d="M536.41 45.36v3.6M534.91 47.16h3" stroke="#FFA500" stroke-width="0.9"/>
<path d="M536.62 45.36v3.6M535.12 47.16h3" stroke="#FFA500" stroke-width="0.9"/>
<path d="M537.93 48.78v3.6M536.43 50.58h3" stroke="#FFA500" stroke-width="0.9"/>
<path d="M538.68 49.88v3.6M537.18 51.68h3" stroke="#FFA500" stroke-width="0.9"/>
<path d="M539.93 53.16v3.6M538.43 54.96h3" stroke="#FFA500" stroke-width="0.9"/>
<path d="M540.92 56.91v3.6M539.42 58.71h3" stroke="#FFA500" stroke-width="0.9"/>
<path d="M541.34 58.16v3.6M539.84 59.96h3" stroke="#FFA500" stroke-width="0.9"/>
<path d="M542.51 59.39v3.6M541.01 61.19h3" stroke="#FFA500" stroke-width="0.9"/>
<path d="M543.53 61.83v3.6M542.03 63.63h3" stroke="#FFA500" stroke-width="0.9"/>
<path d="M545.11 64.30v3.6M543.61 66.10h3" stroke="#FFA500" stroke-width="0.9"/>
<path d="M545.93 65.56v3.6M544.43 67.36h3" stroke="#FFA500" stroke-width="0.9"/>
<path d="M546.31 66.81v3.6M544.81 68.61h3" stroke="#FFA500" stroke-width="0.9"/>
<path d="M547.89 69.31v3.6M546.39 71.11h3" stroke="#FFA500" stroke-width="0.9"/>
<path d="M548.22 70.56v3.6M546.72 72.36h3" stroke="#FFA500" stroke-width="0.9"/>
<path d="M549.64 73.06v3.6M548.14 74.86h3" stroke="#FFA500" stroke-width="0.9"/>
<path d="M550.13 73.06v3.6M548.63 74.86h3" stroke="#FFA500" stroke-width="0.9"/>
<path d="M550.98 75.57v3.6M549.48 77.37h3" stroke="#FFA500" stroke-width="0.9"/>
<path d="M552.78 78.07v3.6M551.28 79.87h3" stroke="#FFA500" stroke-width="0.9"/>
<path d="M553.11 79.39v3.6M551.61 81.19h3" stroke="#FFA500" stroke-width="0.9"/>
<path d="M554.08 80.71v3.6M552.58 82.51h3" stroke="#FFA500" stroke-width="0.9"/>
<path d="M555.78 84.12v3.6M554.28 85.92h3" stroke="#FFA500" stroke-width="0.9"/>
<path d="M556.64 86.22v3.6M555.14 88.02h3" stroke="#FFA500" stroke-width="0.9"/>
<path d="M557.04 86.22v3.6M555.54 88.02h3" stroke="#FFA500" stroke-width="0.9"/>
<path d="M558.66 87.03v3.6M557.16 88.83h3" stroke="#FFA500" stroke-width="0.9"/>
<path d="M559.21 87.03v3.6M557.71 88.83h3" stroke="#FFA500" stroke-width="0.9"/>
<path d="M560.31 88.49v3.6M558.81 90.29h3" stroke="#FFA500" stroke-width="0.9"/>
<path d="M560.82 88.49v3.6M559.32 90.29h3" stroke="#FFA500" stroke-width="0.9"/>
<path d="M562.49 89.94v3.6M560.99 91.74h3" stroke="#FFA500" stroke-width="0.9"/>
<path d="M563.22 89.94v3.6M561.72 91.74h3" stroke="#FFA500" stroke-width="0.9"/>
<path d="M564.45 91.11v3.6M562.95 92.91h3" stroke="#FFA500" stroke-width="0.9"/>
<path d="M565.34 91.11v3.6M563.84 92.91h3" stroke="#FFA500" stroke-width="0.9"/>
<path d="M565.73 91.11v3.6M564.23 92.91h3" stroke="#FFA500" stroke-width="0.9"/>
<path d="M566.76 91.11v3.6M565.26 92.91h3" stroke="#FFA500" stroke-width="0.9"/>
<path d="M567.53 92.39v3.6M566.03 94.19h3" stroke="#FFA500" stroke-width="0.9"/>
<path d="M568.48 92.39v3.6M566.98 94.19h3" stroke="#FFA500" stroke-width="0.9"/>
<path d="M569.36 92.39v3.6M567.86 94.19h3" stroke="#FFA500" stroke-width="0.9"/>
<path d="M570.56 92.39v3.6M569.06 94.19h3" stroke="#FFA500" stroke-width="0.9"/>
<path d="M571.81 92.39v3.6M570.31 94.19h3" stroke="#FFA500" stroke-width="0.9"/>
<path d="M572.20 92.39v3.6M570.70 94.19h3" stroke="#FFA500" stroke-width="0.9"/>
<path d="M573.81 94.02v3.6M572.31 95.82h3" stroke="#FFA500" stroke-width="0.9"/>
<path d="M574.45 94.95v3.6M572.95 96.75h3" stroke="#FFA500" stroke-width="0.9"/>
<path d="M575.39 94.95v3.6M573.89 96.75h3" stroke="#FFA500" stroke-width="0.9"/>
<path d="M576.84 94.95v3.6M575.34 96.75h3" stroke="#FFA500" stroke-width="0.9"/>
<path d="M577.48 94.95v3.6M575.98 96.75h3" stroke="#FFA500" stroke-width="0.9"/>
<path d="M578.29 94.95v3.6M576.79 96.75h3" stroke="#FFA500" stroke-width="0.9"/>
<path d="M579.41 100.65v3.6M577.91 102.45h3" stroke="#FFA500" stroke-width="0.9"/>
<path d="M580.59 100.65v3.6M579.09 102.45h3" stroke="#FFA500" stroke-width="0.9"/>
<path d="M580.93 100.65v3.6M579.43 102.45h3" stroke="#FFA500" stroke-width="0.9"/>
<path d="M582.78 100.65v3.6M581.28 102.45h3" stroke="#FFA500" stroke-width="0.9"/>
<path d="M582.83 100.65v3.6M581.33 102.45h3" stroke="#FFA500" stroke-width="0.9"/>
<path d="M584.49 100.65v3.6M582.99 102.45h3" stroke="#FFA500" stroke-width="0.9"/>
<path d="M585.55 100.65v3.6M584.05 102.45h3" stroke="#FFA500" stroke-width="0.9"/>
<path d="M585.72 100.65v3.6M584.22 102.45h3" stroke="#FFA500" stroke-width="0.9"/>
<path d="M587.42 100.65v3.6M585.92 102.45h3" stroke="#FFA500" stroke-width="0.9"/>
<path d="M587.98 100.65v3.6M586.48 102.45h3" stroke="#FFA500" stroke-width="0.9"/>
<path d="M589.15 101.12v3.6M587.65 102.92h3" stroke="#FFA500" stroke-width="0.9"/>
<path d="M589.56 101.12v3.6M588.06 102.92h3" stroke="#FFA500" stroke-width="0.9"/>
<path d="M590.57 102.75v3.6M589.07 104.55h3" stroke="#FFA500" stroke-width="0.9"/>
<path d="M591.66 102.75v3.6M590.16 104.55h3" stroke="#FFA500" stroke-width="0.9"/>
<path d="M593.37 102.75v3.6M591.87 104.55h3" stroke="#FFA500" stroke-width="0.9"/>
<path d="M526.09 20.80v3.6M524.59 22.60h3" stroke="#6CBB5A" stroke-width="0.9"/>
<path d="M527.56 20.80v3.6M526.06 22.60h3" stroke="#6CBB5A" stroke-width="0.9"/>
<path d="M528.68 22.25v3.6M527.18 24.05h3" stroke="#6CBB5A" stroke-width="0.9"/>
<path d="M529.63 22.25v3.6M528.13 24.05h3" stroke="#6CBB5A" stroke-width="0.9"/>
<path d="M530.02 23.71v3.6M528.52 25.51h3" stroke="#6CBB5A" stroke-width="0.9"/>
<path d="M530.97 23.71v3.6M529.47 25.51h3" stroke="#6CBB5A" stroke-width="0.9"/>
<path d="M532.08 25.34v3.6M530.58 27.14h3" stroke="#6CBB5A" stroke-width="0.9"/>
<path d="M533.27 26.97v3.6M531.77 28.77h3" stroke="#6CBB5A" stroke-width="0.9"/>
<path d="M533.58 26.97v3.6M532.08 28.77h3" stroke="#6CBB5A" stroke-width="0.9"/>
<path d="M535.13 28.60v3.6M533.63 30.40h3" stroke="#6CBB5A" stroke-width="0.9"/>
<path d="M536.13 30.08v3.6M534.63 31.88h3" stroke="#6CBB5A" stroke-width="0.9"/>
<path d="M537.13 31.57v3.6M535.63 33.37h3" stroke="#6CBB5A" stroke-width="0.9"/>
<path d="M537.30 31.57v3.6M535.80 33.37h3" stroke="#6CBB5A" stroke-width="0.9"/>
<path d="M539.11 34.54v3.6M537.61 36.34h3" stroke="#6CBB5A" stroke-width="0.9"/>
<path d="M539.25 34.54v3.6M537.75 36.34h3" stroke="#6CBB5A" stroke-width="0.9"/>
<path d="M540.43 34.54v3.6M538.93 36.34h3" stroke="#6CBB5A" stroke-width="0.9"/>
<path d="M541.63 35.89v3.6M540.13 37.69h3" stroke="#6CBB5A" stroke-width="0.9"/>
<path d="M542.87 37.25v3.6M541.37 39.05h3" stroke="#6CBB5A" stroke-width="0.9"/>
<path d="M543.27 38.61v3.6M541.77 40.41h3" stroke="#6CBB5A" stroke-width="0.9"/>
<path d="M544.77 41.11v3.6M543.27 42.91h3" stroke="#6CBB5A" stroke-width="0.9"/>
<path d="M545.36 42.36v3.6M543.86 44.16h3" stroke="#6CBB5A" stroke-width="0.9"/>
<path d="M546.09 43.61v3.6M544.59 45.41h3" stroke="#6CBB5A" stroke-width="0.9"/>
<path d="M547.04 46.12v3.6M545.54 47.92h3" stroke="#6CBB5A" stroke-width="0.9"/>
<path d="M547.86 47.37v3.6M546.36 49.17h3" stroke="#6CBB5A" stroke-width="0.9"/>
<path d="M548.71 48.62v3.6M547.21 50.42h3" stroke="#6CBB5A" stroke-width="0.9"/>
<path d="M549.72 51.34v3.6M548.22 53.14h3" stroke="#6CBB5A" stroke-width="0.9"/>
<path d="M551.18 58.98v3.6M549.68 60.78h3" stroke="#6CBB5A" stroke-width="0.9"/>
<path d="M552.42 58.98v3.6M550.92 60.78h3" stroke="#6CBB5A" stroke-width="0.9"/>
<path d="M552.58 58.98v3.6M551.08 60.78h3" stroke="#6CBB5A" stroke-width="0.9"/>
<path d="M553.42 60.14v3.6M551.92 61.94h3" stroke="#6CBB5A" stroke-width="0.9"/>
<path d="M555.25 61.42v3.6M553.75 63.22h3" stroke="#6CBB5A" stroke-width="0.9"/>
<path d="M555.77 62.70v3.6M554.27 64.50h3" stroke="#6CBB5A" stroke-width="0.9"/>
<path d="M556.60 66.96v3.6M555.10 68.76h3" stroke="#6CBB5A" stroke-width="0.9"/>
<path d="M557.38 69.80v3.6M555.88 71.60h3" stroke="#6CBB5A" stroke-width="0.9"/>
<path d="M558.67 73.06v3.6M557.17 74.86h3" stroke="#6CBB5A" stroke-width="0.9"/>
<path d="M559.84 78.42v3.6M558.34 80.22h3" stroke="#6CBB5A" stroke-width="0.9"/>
<path d="M560.43 78.42v3.6M558.93 80.22h3" stroke="#6CBB5A" stroke-width="0.9"/>
<path d="M561.35 78.42v3.6M559.85 80.22h3" stroke="#6CBB5A" stroke-width="0.9"/>
<path d="M561.95 83.10v3.6M560.45 84.90h3" stroke="#6CBB5A" stroke-width="0.9"/>
<path d="M563.71 85.75v3.6M562.21 87.55h3" stroke="#6CBB5A" stroke-width="0.9"/>
<path d="M563.82 85.75v3.6M562.32 87.55h3" stroke="#6CBB5A" stroke-width="0.9"/>
<path d="M565.21 85.75v3.6M563.71 87.55h3" stroke="#6CBB5A" stroke-width="0.9"/>
<path d="M566.48 85.75v3.6M564.98 87.55h3" stroke="#6CBB5A" stroke-width="0.9"/>
<path d="M566.76 85.75v3.6M565.26 87.55h3" stroke="#6CBB5A" stroke-width="0.9"/>
<path d="M568.27 85.75v3.6M566.77 87.55h3" stroke="#6CBB5A" stroke-width="0.9"/>
<path d="M569.43 85.75v3.6M567.93 87.55h3" stroke="#6CBB5A" stroke-width="0.9"/>
<path d="M570.07 87.85v3.6M568.57 89.65h3" stroke="#6CBB5A" stroke-width="0.9"/>
<path d="M571.17 89.48v3.6M569.67 91.28h3" stroke="#6CBB5A" stroke-width="0.9"/>
<path d="M571.47 89.48v3.6M569.97 91.28h3" stroke="#6CBB5A" stroke-width="0.9"/>
<path d="M572.73 89.48v3.6M571.23 91.28h3" stroke="#6CBB5A" stroke-width="0.9"/>
<path d="M573.40 90.29v3.6M571.90 92.09h3" stroke="#6CBB5A" stroke-width="0.9"/>
<path d="M575.01 92.04v3.6M573.51 93.84h3" stroke="#6CBB5A" stroke-width="0.9"/>
<path d="M575.44 92.04v3.6M573.94 93.84h3" stroke="#6CBB5A" stroke-width="0.9"/>
<path d="M576.53 92.04v3.6M575.03 93.84h3" stroke="#6CBB5A" stroke-width="0.9"/>
<path d="M578.00 92.04v3.6M576.50 93.84h3" stroke="#6CBB5A" stroke-width="0.9"/>
<path d="M578.81 92.04v3.6M577.31 93.84h3" stroke="#6CBB5A" stroke-width="0.9"/>
<path d="M579.87 92.04v3.6M578.37 93.84h3" stroke="#6CBB5A" stroke-width="0.9"/>
<path d="M580.32 96.11v3.6M578.82 97.91h3" stroke="#6CBB5A" stroke-width="0.9"/>
<path d="M581.30 96.11v3.6M579.80 97.91h3" stroke="#6CBB5A" stroke-width="0.9"/>
<path d="M582.48 96.11v3.6M580.98 97.91h3" stroke="#6CBB5A" stroke-width="0.9"/>
<path d="M583.19 96.11v3.6M581.69 97.91h3" stroke="#6CBB5A" stroke-width="0.9"/>
<path d="M583.96 96.11v3.6M582.46 97.91h3" stroke="#6CBB5A" stroke-width="0.9"/>
<path d="M585.01 96.11v3.6M583.51 97.91h3" stroke="#6CBB5A" stroke-width="0.9"/>
<path d="M585.72 96.11v3.6M584.22 97.91h3" stroke="#6CBB5A" stroke-width="0.9"/>
<path d="M586.88 96.11v3.6M585.38 97.91h3" stroke="#6CBB5A" stroke-width="0.9"/>
<path d="M588.41 96.11v3.6M586.91 97.91h3" stroke="#6CBB5A" stroke-width="0.9"/>
<path d="M589.33 97.83v3.6M587.83 99.63h3" stroke="#6CBB5A" stroke-width="0.9"/>
<path d="M589.96 101.93v3.6M588.46 103.73h3" stroke="#6CBB5A" stroke-width="0.9"/>
<path d="M590.79 101.93v3.6M589.29 103.73h3" stroke="#6CBB5A" stroke-width="0.9"/>
<path d="M591.58 101.93v3.6M590.08 103.73h3" stroke="#6CBB5A" stroke-width="0.9"/>
<path d="M601.13 102.48v3.2" stroke="#6CBB5A" stroke-width="0.8"/>
<path d="M605.29 102.48v3.2" stroke="#6CBB5A" stroke-width="0.8"/>
<path d="M626.69 102.48v3.2" stroke="#6CBB5A" stroke-width="0.8"/>
<path d="M672.38 102.48v3.2" stroke="#6CBB5A" stroke-width="0.8"/>
<path d="M599.80 106.32v3.2" stroke="#FFA500" stroke-width="0.8"/>
<path d="M602.27 106.32v3.2" stroke="#FFA500" stroke-width="0.8"/>
<path d="M662.07 116.56v3.2" stroke="#FFA500" stroke-width="0.8"/>
<path d="M668.28 116.56v3.2" stroke="#FFA500" stroke-width="0.8"/>
<path d="M517.7 169.3V206.6H686" fill="none" stroke="#444" stroke-width="1.1"/>
<line x1="515.5" y1="179.6" x2="517.7" y2="179.6" stroke="#444" stroke-width="0.9"/>
<line x1="515.5" y1="196.6" x2="517.7" y2="196.6" stroke="#444" stroke-width="0.9"/>
<text x="514.2" y="182" font-size="6.9" text-anchor="end" fill="#FFA500" font-family="Liberation Sans, sans-serif" stroke="#FFA500" stroke-width="0.08">Cluster1</text>
<text x="514.2" y="199" font-size="6.9" text-anchor="end" fill="#6CBB5A" font-family="Liberation Sans, sans-serif" stroke="#6CBB5A" stroke-width="0.08">Cluster2</text>
<text x="525.90" y="182.3" font-size="7.4" text-anchor="middle" fill="#222" font-family="Liberation Sans, sans-serif" stroke="#222" stroke-width="0.08">314</text>
<text x="525.90" y="199.3" font-size="7.4" text-anchor="middle" fill="#222" font-family="Liberation Sans, sans-serif" stroke="#222" stroke-width="0.08">197</text>
<line x1="525.90" y1="206.6" x2="525.90" y2="208.9" stroke="#444" stroke-width="0.9"/>
<text x="525.90" y="215.3" font-size="7.4" text-anchor="middle" fill="#333" font-family="Liberation Sans, sans-serif" stroke="#333" stroke-width="0.08">0</text>
<text x="547.60" y="182.3" font-size="7.4" text-anchor="middle" fill="#222" font-family="Liberation Sans, sans-serif" stroke="#222" stroke-width="0.08">80</text>
<text x="547.60" y="199.3" font-size="7.4" text-anchor="middle" fill="#222" font-family="Liberation Sans, sans-serif" stroke="#222" stroke-width="0.08">59</text>
<line x1="547.60" y1="206.6" x2="547.60" y2="208.9" stroke="#444" stroke-width="0.9"/>
<text x="547.60" y="215.3" font-size="7.4" text-anchor="middle" fill="#333" font-family="Liberation Sans, sans-serif" stroke="#333" stroke-width="0.08">36</text>
<text x="569.30" y="182.3" font-size="7.4" text-anchor="middle" fill="#222" font-family="Liberation Sans, sans-serif" stroke="#222" stroke-width="0.08">22</text>
<text x="569.30" y="199.3" font-size="7.4" text-anchor="middle" fill="#222" font-family="Liberation Sans, sans-serif" stroke="#222" stroke-width="0.08">18</text>
<line x1="569.30" y1="206.6" x2="569.30" y2="208.9" stroke="#444" stroke-width="0.9"/>
<text x="569.30" y="215.3" font-size="7.4" text-anchor="middle" fill="#333" font-family="Liberation Sans, sans-serif" stroke="#333" stroke-width="0.08">72</text>
<text x="591.00" y="182.3" font-size="7.4" text-anchor="middle" fill="#222" font-family="Liberation Sans, sans-serif" stroke="#222" stroke-width="0.08">7</text>
<text x="591.00" y="199.3" font-size="7.4" text-anchor="middle" fill="#222" font-family="Liberation Sans, sans-serif" stroke="#222" stroke-width="0.08">6</text>
<line x1="591.00" y1="206.6" x2="591.00" y2="208.9" stroke="#444" stroke-width="0.9"/>
<text x="591.00" y="215.3" font-size="7.4" text-anchor="middle" fill="#333" font-family="Liberation Sans, sans-serif" stroke="#333" stroke-width="0.08">108</text>
<text x="612.70" y="182.3" font-size="7.4" text-anchor="middle" fill="#222" font-family="Liberation Sans, sans-serif" stroke="#222" stroke-width="0.08">4</text>
<text x="612.70" y="199.3" font-size="7.4" text-anchor="middle" fill="#222" font-family="Liberation Sans, sans-serif" stroke="#222" stroke-width="0.08">2</text>
<line x1="612.70" y1="206.6" x2="612.70" y2="208.9" stroke="#444" stroke-width="0.9"/>
<text x="612.70" y="215.3" font-size="7.4" text-anchor="middle" fill="#333" font-family="Liberation Sans, sans-serif" stroke="#333" stroke-width="0.08">144</text>
<text x="634.40" y="182.3" font-size="7.4" text-anchor="middle" fill="#222" font-family="Liberation Sans, sans-serif" stroke="#222" stroke-width="0.08">2</text>
<text x="634.40" y="199.3" font-size="7.4" text-anchor="middle" fill="#222" font-family="Liberation Sans, sans-serif" stroke="#222" stroke-width="0.08">1</text>
<line x1="634.40" y1="206.6" x2="634.40" y2="208.9" stroke="#444" stroke-width="0.9"/>
<text x="634.40" y="215.3" font-size="7.4" text-anchor="middle" fill="#333" font-family="Liberation Sans, sans-serif" stroke="#333" stroke-width="0.08">180</text>
<text x="656.10" y="182.3" font-size="7.4" text-anchor="middle" fill="#222" font-family="Liberation Sans, sans-serif" stroke="#222" stroke-width="0.08">2</text>
<text x="656.10" y="199.3" font-size="7.4" text-anchor="middle" fill="#222" font-family="Liberation Sans, sans-serif" stroke="#222" stroke-width="0.08">1</text>
<line x1="656.10" y1="206.6" x2="656.10" y2="208.9" stroke="#444" stroke-width="0.9"/>
<text x="656.10" y="215.3" font-size="7.4" text-anchor="middle" fill="#333" font-family="Liberation Sans, sans-serif" stroke="#333" stroke-width="0.08">216</text>
<text x="601.9" y="224" font-size="8.4" text-anchor="middle" fill="#222" font-family="Liberation Sans, sans-serif" stroke="#222" stroke-width="0.08">Time(months)</text>
<text transform="translate(485,188) rotate(-90)" font-size="8.1" text-anchor="middle" fill="#222" font-family="Liberation Sans, sans-serif" stroke="#222" stroke-width="0.08">Cluster</text>
<text x="2.3" y="249.8" font-size="10" font-weight="bold" stroke="#000" stroke-width="0.3" font-family="Liberation Sans, sans-serif">d</text>
<rect x="22.2" y="263.3" width="267.0" height="184.1" fill="none" stroke="#555" stroke-width="0.9"/>
<line x1="18.6" y1="442.20" x2="22.2" y2="442.20" stroke="#555" stroke-width="0.8"/>
<text x="17.2" y="444.50" font-size="6.6" text-anchor="end" fill="#333" font-family="Liberation Sans, sans-serif" stroke="#333" stroke-width="0.2">0</text>
<line x1="18.6" y1="393.80" x2="22.2" y2="393.80" stroke="#555" stroke-width="0.8"/>
<text x="17.2" y="396.10" font-size="6.6" text-anchor="end" fill="#333" font-family="Liberation Sans, sans-serif" stroke="#333" stroke-width="0.2">2</text>
<line x1="18.6" y1="345.40" x2="22.2" y2="345.40" stroke="#555" stroke-width="0.8"/>
<text x="17.2" y="347.70" font-size="6.6" text-anchor="end" fill="#333" font-family="Liberation Sans, sans-serif" stroke="#333" stroke-width="0.2">4</text>
<line x1="18.6" y1="297.00" x2="22.2" y2="297.00" stroke="#555" stroke-width="0.8"/>
<text x="17.2" y="299.30" font-size="6.6" text-anchor="end" fill="#333" font-family="Liberation Sans, sans-serif" stroke="#333" stroke-width="0.2">6</text>
<text transform="translate(9.2,351.5) rotate(-90)" font-size="7.2" text-anchor="middle" fill="#222" font-family="Liberation Sans, sans-serif" stroke="#222" stroke-width="0.2">Expression levels</text>
<line x1="30.30" y1="447.4" x2="30.30" y2="451" stroke="#555" stroke-width="0.8"/>
<text transform="translate(34.50,455.6) rotate(-45)" font-size="6.8" text-anchor="end" fill="#333" font-family="Liberation Sans, sans-serif" stroke="#333" stroke-width="0.2">BRCA1</text>
<text x="30.30" y="271.6" font-size="5.9" text-anchor="middle" fill="#333" stroke="#333" stroke-width="0.15" font-family="Liberation Sans, sans-serif">****</text>
<line x1="27.85" y1="315.30" x2="27.85" y2="354.20" stroke="#222" stroke-width="1"/>
<line x1="27.85" y1="381.00" x2="27.85" y2="411.10" stroke="#222" stroke-width="1"/>
<rect x="25.20" y="354.20" width="5.30" height="26.80" fill="#FFA500" stroke="#222" stroke-width="0.9"/>
<line x1="25.20" y1="370.40" x2="30.50" y2="370.40" stroke="#111" stroke-width="1.1"/>
<line x1="33.40" y1="367.30" x2="33.40" y2="389.70" stroke="#222" stroke-width="1"/>
<line x1="33.40" y1="405.60" x2="33.40" y2="423.80" stroke="#222" stroke-width="1"/>
<rect x="30.75" y="389.70" width="5.30" height="15.90" fill="#6CBB5A" stroke="#222" stroke-width="0.9"/>
<line x1="30.75" y1="397.90" x2="36.05" y2="397.90" stroke="#111" stroke-width="1.1"/>
<circle cx="33.40" cy="358.50" r="1.3" fill="#111"/>
<circle cx="33.40" cy="362.00" r="1.3" fill="#111"/>
<circle cx="33.40" cy="430.00" r="1.3" fill="#111"/>
<line x1="44.25" y1="447.4" x2="44.25" y2="451" stroke="#555" stroke-width="0.8"/>
<text transform="translate(48.45,455.6) rotate(-45)" font-size="6.8" text-anchor="end" fill="#333" font-family="Liberation Sans, sans-serif" stroke="#333" stroke-width="0.2">BRCA2</text>
<text x="44.25" y="271.6" font-size="5.9" text-anchor="middle" fill="#333" stroke="#333" stroke-width="0.15" font-family="Liberation Sans, sans-serif">****</text>
<line x1="41.80" y1="358.20" x2="41.80" y2="387.60" stroke="#222" stroke-width="1"/>
<line x1="41.80" y1="408.30" x2="41.80" y2="427.30" stroke="#222" stroke-width="1"/>
<rect x="39.15" y="387.60" width="5.30" height="20.70" fill="#FFA500" stroke="#222" stroke-width="0.9"/>
<line x1="39.15" y1="400.00" x2="44.45" y2="400.00" stroke="#111" stroke-width="1.1"/>
<circle cx="41.80" cy="343.10" r="1.3" fill="#111"/>
<circle cx="41.80" cy="354.10" r="1.3" fill="#111"/>
<line x1="47.35" y1="386.70" x2="47.35" y2="408.30" stroke="#222" stroke-width="1"/>
<line x1="47.35" y1="420.60" x2="47.35" y2="435.80" stroke="#222" stroke-width="1"/>
<rect x="44.70" y="408.30" width="5.30" height="12.30" fill="#6CBB5A" stroke="#222" stroke-width="0.9"/>
<line x1="44.70" y1="414.40" x2="50.00" y2="414.40" stroke="#111" stroke-width="1.1"/>
<circle cx="47.35" cy="384.00" r="1.3" fill="#111"/>
<circle cx="47.35" cy="386.00" r="1.3" fill="#111"/>
<circle cx="47.35" cy="388.50" r="1.3" fill="#111"/>
<line x1="58.20" y1="447.4" x2="58.20" y2="451" stroke="#555" stroke-width="0.8"/>
<text transform="translate(62.40,455.6) rotate(-45)" font-size="6.8" text-anchor="end" fill="#333" font-family="Liberation Sans, sans-serif" stroke="#333" stroke-width="0.2">PALB2</text>
<text x="58.20" y="271.6" font-size="5.9" text-anchor="middle" fill="#333" stroke="#333" stroke-width="0.15" font-family="Liberation Sans, sans-serif">****</text>
<line x1="55.75" y1="324.10" x2="55.75" y2="347.40" stroke="#222" stroke-width="1"/>
<line x1="55.75" y1="365.20" x2="55.75" y2="391.20" stroke="#222" stroke-width="1"/>
<rect x="53.10" y="347.40" width="5.30" height="17.80" fill="#FFA500" stroke="#222" stroke-width="0.9"/>
<line x1="53.10" y1="356.70" x2="58.40" y2="356.70" stroke="#111" stroke-width="1.1"/>
<circle cx="55.75" cy="393.50" r="1.3" fill="#111"/>
<line x1="61.30" y1="335.60" x2="61.30" y2="355.80" stroke="#222" stroke-width="1"/>
<line x1="61.30" y1="369.50" x2="61.30" y2="391.20" stroke="#222" stroke-width="1"/>
<rect x="58.65" y="355.80" width="5.30" height="13.70" fill="#6CBB5A" stroke="#222" stroke-width="0.9"/>
<line x1="58.65" y1="362.90" x2="63.95" y2="362.90" stroke="#111" stroke-width="1.1"/>
<circle cx="61.30" cy="393.50" r="1.3" fill="#111"/>
<line x1="72.15" y1="447.4" x2="72.15" y2="451" stroke="#555" stroke-width="0.8"/>
<text transform="translate(76.35,455.6) rotate(-45)" font-size="6.8" text-anchor="end" fill="#333" font-family="Liberation Sans, sans-serif" stroke="#333" stroke-width="0.2">BARD1</text>
<text x="72.15" y="271.6" font-size="5.9" text-anchor="middle" fill="#333" stroke="#333" stroke-width="0.15" font-family="Liberation Sans, sans-serif">****</text>
<line x1="69.70" y1="330.30" x2="69.70" y2="360.70" stroke="#222" stroke-width="1"/>
<line x1="69.70" y1="381.50" x2="69.70" y2="407.90" stroke="#222" stroke-width="1"/>
<rect x="67.05" y="360.70" width="5.30" height="20.80" fill="#FFA500" stroke="#222" stroke-width="0.9"/>
<line x1="67.05" y1="372.10" x2="72.35" y2="372.10" stroke="#111" stroke-width="1.1"/>
<circle cx="69.70" cy="307.90" r="1.3" fill="#111"/>
<circle cx="69.70" cy="327.30" r="1.3" fill="#111"/>
<circle cx="69.70" cy="417.10" r="1.3" fill="#111"/>
<line x1="75.25" y1="365.00" x2="75.25" y2="378.50" stroke="#222" stroke-width="1"/>
<line x1="75.25" y1="393.40" x2="75.25" y2="414.60" stroke="#222" stroke-width="1"/>
<rect x="72.60" y="378.50" width="5.30" height="14.90" fill="#6CBB5A" stroke="#222" stroke-width="0.9"/>
<line x1="72.60" y1="386.40" x2="77.90" y2="386.40" stroke="#111" stroke-width="1.1"/>
<circle cx="75.25" cy="350.50" r="1.3" fill="#111"/>
<circle cx="75.25" cy="355.80" r="1.3" fill="#111"/>
<line x1="86.10" y1="447.4" x2="86.10" y2="451" stroke="#555" stroke-width="0.8"/>
<text transform="translate(90.30,455.6) rotate(-45)" font-size="6.8" text-anchor="end" fill="#333" font-family="Liberation Sans, sans-serif" stroke="#333" stroke-width="0.2">ATR</text>
<text x="86.10" y="271.6" font-size="5.9" text-anchor="middle" fill="#333" stroke="#333" stroke-width="0.15" font-family="Liberation Sans, sans-serif">****</text>
<line x1="83.65" y1="355.00" x2="83.65" y2="379.70" stroke="#222" stroke-width="1"/>
<line x1="83.65" y1="394.70" x2="83.65" y2="415.50" stroke="#222" stroke-width="1"/>
<rect x="81.00" y="379.70" width="5.30" height="15.00" fill="#FFA500" stroke="#222" stroke-width="0.9"/>
<line x1="81.00" y1="387.60" x2="86.30" y2="387.60" stroke="#111" stroke-width="1.1"/>
<circle cx="83.65" cy="340.80" r="1.3" fill="#111"/>
<circle cx="83.65" cy="348.40" r="1.3" fill="#111"/>
<circle cx="83.65" cy="351.40" r="1.3" fill="#111"/>
<circle cx="83.65" cy="353.20" r="1.3" fill="#111"/>
<circle cx="83.65" cy="355.00" r="1.3" fill="#111"/>
<line x1="89.20" y1="365.60" x2="89.20" y2="384.60" stroke="#222" stroke-width="1"/>
<line x1="89.20" y1="399.40" x2="89.20" y2="421.10" stroke="#222" stroke-width="1"/>
<rect x="86.55" y="384.60" width="5.30" height="14.80" fill="#6CBB5A" stroke="#222" stroke-width="0.9"/>
<line x1="86.55" y1="391.20" x2="91.85" y2="391.20" stroke="#111" stroke-width="1.1"/>
<circle cx="89.20" cy="353.70" r="1.3" fill="#111"/>
<circle cx="89.20" cy="358.90" r="1.3" fill="#111"/>
<line x1="100.05" y1="447.4" x2="100.05" y2="451" stroke="#555" stroke-width="0.8"/>
<text transform="translate(104.25,455.6) rotate(-45)" font-size="6.8" text-anchor="end" fill="#333" font-family="Liberation Sans, sans-serif" stroke="#333" stroke-width="0.2">ATRX</text>
<text x="100.05" y="271.6" font-size="5.9" text-anchor="middle" fill="#333" stroke="#333" stroke-width="0.15" font-family="Liberation Sans, sans-serif">*</text>
<line x1="97.60" y1="317.90" x2="97.60" y2="346.70" stroke="#222" stroke-width="1"/>
<line x1="97.60" y1="366.50" x2="97.60" y2="396.40" stroke="#222" stroke-width="1"/>
<rect x="94.95" y="346.70" width="5.30" height="19.80" fill="#FFA500" stroke="#222" stroke-width="0.9"/>
<line x1="94.95" y1="357.30" x2="100.25" y2="357.30" stroke="#111" stroke-width="1.1"/>
<circle cx="97.60" cy="399.00" r="1.3" fill="#111"/>
<circle cx="97.60" cy="401.50" r="1.3" fill="#111"/>
<circle cx="97.60" cy="404.40" r="1.3" fill="#111"/>
<line x1="103.15" y1="325.00" x2="103.15" y2="344.90" stroke="#222" stroke-width="1"/>
<line x1="103.15" y1="364.30" x2="103.15" y2="389.70" stroke="#222" stroke-width="1"/>
<rect x="100.50" y="344.90" width="5.30" height="19.40" fill="#6CBB5A" stroke="#222" stroke-width="0.9"/>
<line x1="100.50" y1="353.20" x2="105.80" y2="353.20" stroke="#111" stroke-width="1.1"/>
<circle cx="103.15" cy="308.20" r="1.3" fill="#111"/>
<circle cx="103.15" cy="313.50" r="1.3" fill="#111"/>
<line x1="114.00" y1="447.4" x2="114.00" y2="451" stroke="#555" stroke-width="0.8"/>
<text transform="translate(118.20,455.6) rotate(-45)" font-size="6.8" text-anchor="end" fill="#333" font-family="Liberation Sans, sans-serif" stroke="#333" stroke-width="0.2">ATM</text>
<text x="114.00" y="272" font-size="5.6" text-anchor="middle" fill="#333" stroke="#333" stroke-width="0.1" font-family="Liberation Sans, sans-serif">ns</text>
<line x1="111.55" y1="332.90" x2="111.55" y2="362.40" stroke="#222" stroke-width="1"/>
<line x1="111.55" y1="382.00" x2="111.55" y2="408.40" stroke="#222" stroke-width="1"/>
<rect x="108.90" y="362.40" width="5.30" height="19.60" fill="#FFA500" stroke="#222" stroke-width="0.9"/>
<line x1="108.90" y1="371.40" x2="114.20" y2="371.40" stroke="#111" stroke-width="1.1"/>
<circle cx="111.55" cy="318.40" r="1.3" fill="#111"/>
<circle cx="111.55" cy="326.40" r="1.3" fill="#111"/>
<circle cx="111.55" cy="415.50" r="1.3" fill="#111"/>
<circle cx="111.55" cy="420.20" r="1.3" fill="#111"/>
<line x1="117.10" y1="335.50" x2="117.10" y2="362.40" stroke="#222" stroke-width="1"/>
<line x1="117.10" y1="381.40" x2="117.10" y2="403.80" stroke="#222" stroke-width="1"/>
<rect x="114.45" y="362.40" width="5.30" height="19.00" fill="#6CBB5A" stroke="#222" stroke-width="0.9"/>
<line x1="114.45" y1="371.40" x2="119.75" y2="371.40" stroke="#111" stroke-width="1.1"/>
<circle cx="117.10" cy="320.20" r="1.3" fill="#111"/>
<circle cx="117.10" cy="410.20" r="1.3" fill="#111"/>
<line x1="127.95" y1="447.4" x2="127.95" y2="451" stroke="#555" stroke-width="0.8"/>
<text transform="translate(132.15,455.6) rotate(-45)" font-size="6.8" text-anchor="end" fill="#333" font-family="Liberation Sans, sans-serif" stroke="#333" stroke-width="0.2">BAP1</text>
<text x="127.95" y="271.6" font-size="5.9" text-anchor="middle" fill="#333" stroke="#333" stroke-width="0.15" font-family="Liberation Sans, sans-serif">*</text>
<line x1="125.50" y1="275.60" x2="125.50" y2="297.10" stroke="#222" stroke-width="1"/>
<line x1="125.50" y1="312.60" x2="125.50" y2="332.90" stroke="#222" stroke-width="1"/>
<rect x="122.85" y="297.10" width="5.30" height="15.50" fill="#FFA500" stroke="#222" stroke-width="0.9"/>
<line x1="122.85" y1="305.20" x2="128.15" y2="305.20" stroke="#111" stroke-width="1.1"/>
<circle cx="125.50" cy="271.70" r="1.3" fill="#111"/>
<circle cx="125.50" cy="338.00" r="1.3" fill="#111"/>
<circle cx="125.50" cy="340.50" r="1.3" fill="#111"/>
<circle cx="125.50" cy="343.00" r="1.3" fill="#111"/>
<circle cx="125.50" cy="345.50" r="1.3" fill="#111"/>
<circle cx="125.50" cy="348.00" r="1.3" fill="#111"/>
<circle cx="125.50" cy="356.20" r="1.3" fill="#111"/>
<line x1="131.05" y1="282.60" x2="131.05" y2="298.00" stroke="#222" stroke-width="1"/>
<line x1="131.05" y1="309.40" x2="131.05" y2="323.20" stroke="#222" stroke-width="1"/>
<rect x="128.40" y="298.00" width="5.30" height="11.40" fill="#6CBB5A" stroke="#222" stroke-width="0.9"/>
<line x1="128.40" y1="302.90" x2="133.70" y2="302.90" stroke="#111" stroke-width="1.1"/>
<circle cx="131.05" cy="276.90" r="1.3" fill="#111"/>
<circle cx="131.05" cy="279.80" r="1.3" fill="#111"/>
<circle cx="131.05" cy="330.00" r="1.3" fill="#111"/>
<circle cx="131.05" cy="332.50" r="1.3" fill="#111"/>
<circle cx="131.05" cy="335.00" r="1.3" fill="#111"/>
<line x1="141.90" y1="447.4" x2="141.90" y2="451" stroke="#555" stroke-width="0.8"/>
<text transform="translate(146.10,455.6) rotate(-45)" font-size="6.8" text-anchor="end" fill="#333" font-family="Liberation Sans, sans-serif" stroke="#333" stroke-width="0.2">RAD51</text>
<text x="141.90" y="271.6" font-size="5.9" text-anchor="middle" fill="#333" stroke="#333" stroke-width="0.15" font-family="Liberation Sans, sans-serif">****</text>
<line x1="139.45" y1="319.30" x2="139.45" y2="350.20" stroke="#222" stroke-width="1"/>
<line x1="139.45" y1="373.90" x2="139.45" y2="394.70" stroke="#222" stroke-width="1"/>
<rect x="136.80" y="350.20" width="5.30" height="23.70" fill="#FFA500" stroke="#222" stroke-width="0.9"/>
<line x1="136.80" y1="362.40" x2="142.10" y2="362.40" stroke="#111" stroke-width="1.1"/>
<circle cx="139.45" cy="304.20" r="1.3" fill="#111"/>
<circle cx="139.45" cy="310.00" r="1.3" fill="#111"/>
<line x1="145.00" y1="361.20" x2="145.00" y2="386.40" stroke="#222" stroke-width="1"/>
<line x1="145.00" y1="404.40" x2="145.00" y2="422.90" stroke="#222" stroke-width="1"/>
<rect x="142.35" y="386.40" width="5.30" height="18.00" fill="#6CBB5A" stroke="#222" stroke-width="0.9"/>
<line x1="142.35" y1="395.20" x2="147.65" y2="395.20" stroke="#111" stroke-width="1.1"/>
<circle cx="145.00" cy="355.30" r="1.3" fill="#111"/>
<line x1="155.85" y1="447.4" x2="155.85" y2="451" stroke="#555" stroke-width="0.8"/>
<text transform="translate(160.05,455.6) rotate(-45)" font-size="6.8" text-anchor="end" fill="#333" font-family="Liberation Sans, sans-serif" stroke="#333" stroke-width="0.2">RAD51B</text>
<text x="155.85" y="272" font-size="5.6" text-anchor="middle" fill="#333" stroke="#333" stroke-width="0.1" font-family="Liberation Sans, sans-serif">ns</text>
<line x1="153.40" y1="379.50" x2="153.40" y2="397.30" stroke="#222" stroke-width="1"/>
<line x1="153.40" y1="411.30" x2="153.40" y2="427.60" stroke="#222" stroke-width="1"/>
<rect x="150.75" y="397.30" width="5.30" height="14.00" fill="#FFA500" stroke="#222" stroke-width="0.9"/>
<line x1="150.75" y1="404.60" x2="156.05" y2="404.60" stroke="#111" stroke-width="1.1"/>
<circle cx="153.40" cy="321.40" r="1.3" fill="#111"/>
<circle cx="153.40" cy="355.00" r="1.3" fill="#111"/>
<circle cx="153.40" cy="357.60" r="1.3" fill="#111"/>
<circle cx="153.40" cy="367.00" r="1.3" fill="#111"/>
<circle cx="153.40" cy="370.00" r="1.3" fill="#111"/>
<circle cx="153.40" cy="373.00" r="1.3" fill="#111"/>
<circle cx="153.40" cy="377.00" r="1.3" fill="#111"/>
<line x1="158.95" y1="380.60" x2="158.95" y2="398.60" stroke="#222" stroke-width="1"/>
<line x1="158.95" y1="410.50" x2="158.95" y2="427.10" stroke="#222" stroke-width="1"/>
<rect x="156.30" y="398.60" width="5.30" height="11.90" fill="#6CBB5A" stroke="#222" stroke-width="0.9"/>
<line x1="156.30" y1="405.30" x2="161.60" y2="405.30" stroke="#111" stroke-width="1.1"/>
<circle cx="158.95" cy="355.00" r="1.3" fill="#111"/>
<circle cx="158.95" cy="358.00" r="1.3" fill="#111"/>
<circle cx="158.95" cy="361.00" r="1.3" fill="#111"/>
<circle cx="158.95" cy="363.00" r="1.3" fill="#111"/>
<circle cx="158.95" cy="373.50" r="1.3" fill="#111"/>
<circle cx="158.95" cy="376.00" r="1.3" fill="#111"/>
<circle cx="158.95" cy="378.20" r="1.3" fill="#111"/>
<line x1="169.80" y1="447.4" x2="169.80" y2="451" stroke="#555" stroke-width="0.8"/>
<text transform="translate(174.00,455.6) rotate(-45)" font-size="6.8" text-anchor="end" fill="#333" font-family="Liberation Sans, sans-serif" stroke="#333" stroke-width="0.2">RAD51C</text>
<text x="169.80" y="271.6" font-size="5.9" text-anchor="middle" fill="#333" stroke="#333" stroke-width="0.15" font-family="Liberation Sans, sans-serif">****</text>
<line x1="167.35" y1="338.70" x2="167.35" y2="357.30" stroke="#222" stroke-width="1"/>
<line x1="167.35" y1="374.00" x2="167.35" y2="397.30" stroke="#222" stroke-width="1"/>
<rect x="164.70" y="357.30" width="5.30" height="16.70" fill="#FFA500" stroke="#222" stroke-width="0.9"/>
<line x1="164.70" y1="366.50" x2="170.00" y2="366.50" stroke="#111" stroke-width="1.1"/>
<circle cx="167.35" cy="317.00" r="1.3" fill="#111"/>
<circle cx="167.35" cy="329.40" r="1.3" fill="#111"/>
<line x1="172.90" y1="351.50" x2="172.90" y2="369.10" stroke="#222" stroke-width="1"/>
<line x1="172.90" y1="380.00" x2="172.90" y2="394.70" stroke="#222" stroke-width="1"/>
<rect x="170.25" y="369.10" width="5.30" height="10.90" fill="#6CBB5A" stroke="#222" stroke-width="0.9"/>
<line x1="170.25" y1="374.70" x2="175.55" y2="374.70" stroke="#111" stroke-width="1.1"/>
<circle cx="172.90" cy="346.10" r="1.3" fill="#111"/>
<circle cx="172.90" cy="349.30" r="1.3" fill="#111"/>
<circle cx="172.90" cy="396.80" r="1.3" fill="#111"/>
<circle cx="172.90" cy="398.50" r="1.3" fill="#111"/>
<circle cx="172.90" cy="400.00" r="1.3" fill="#111"/>
<line x1="183.75" y1="447.4" x2="183.75" y2="451" stroke="#555" stroke-width="0.8"/>
<text transform="translate(187.95,455.6) rotate(-45)" font-size="6.8" text-anchor="end" fill="#333" font-family="Liberation Sans, sans-serif" stroke="#333" stroke-width="0.2">RAD51D</text>
<text x="183.75" y="271.6" font-size="5.9" text-anchor="middle" fill="#333" stroke="#333" stroke-width="0.15" font-family="Liberation Sans, sans-serif">****</text>
<line x1="181.30" y1="350.60" x2="181.30" y2="375.30" stroke="#222" stroke-width="1"/>
<line x1="181.30" y1="391.50" x2="181.30" y2="412.80" stroke="#222" stroke-width="1"/>
<rect x="178.65" y="375.30" width="5.30" height="16.20" fill="#FFA500" stroke="#222" stroke-width="0.9"/>
<line x1="178.65" y1="383.70" x2="183.95" y2="383.70" stroke="#111" stroke-width="1.1"/>
<circle cx="181.30" cy="348.20" r="1.3" fill="#111"/>
<line x1="186.85" y1="364.70" x2="186.85" y2="382.30" stroke="#222" stroke-width="1"/>
<line x1="186.85" y1="394.30" x2="186.85" y2="412.80" stroke="#222" stroke-width="1"/>
<rect x="184.20" y="382.30" width="5.30" height="12.00" fill="#6CBB5A" stroke="#222" stroke-width="0.9"/>
<line x1="184.20" y1="388.00" x2="189.50" y2="388.00" stroke="#111" stroke-width="1.1"/>
<circle cx="186.85" cy="353.20" r="1.3" fill="#111"/>
<circle cx="186.85" cy="361.70" r="1.3" fill="#111"/>
<circle cx="186.85" cy="418.60" r="1.3" fill="#111"/>
<line x1="197.70" y1="447.4" x2="197.70" y2="451" stroke="#555" stroke-width="0.8"/>
<text transform="translate(201.90,455.6) rotate(-45)" font-size="6.8" text-anchor="end" fill="#333" font-family="Liberation Sans, sans-serif" stroke="#333" stroke-width="0.2">XRCC2</text>
<text x="197.70" y="271.6" font-size="5.9" text-anchor="middle" fill="#333" stroke="#333" stroke-width="0.15" font-family="Liberation Sans, sans-serif">****</text>
<line x1="195.25" y1="325.80" x2="195.25" y2="362.90" stroke="#222" stroke-width="1"/>
<line x1="195.25" y1="389.00" x2="195.25" y2="414.80" stroke="#222" stroke-width="1"/>
<rect x="192.60" y="362.90" width="5.30" height="26.10" fill="#FFA500" stroke="#222" stroke-width="0.9"/>
<line x1="192.60" y1="376.70" x2="197.90" y2="376.70" stroke="#111" stroke-width="1.1"/>
<circle cx="195.25" cy="317.00" r="1.3" fill="#111"/>
<circle cx="195.25" cy="322.70" r="1.3" fill="#111"/>
<line x1="200.80" y1="371.70" x2="200.80" y2="396.80" stroke="#222" stroke-width="1"/>
<line x1="200.80" y1="417.40" x2="200.80" y2="434.70" stroke="#222" stroke-width="1"/>
<rect x="198.15" y="396.80" width="5.30" height="20.60" fill="#6CBB5A" stroke="#222" stroke-width="0.9"/>
<line x1="198.15" y1="409.10" x2="203.45" y2="409.10" stroke="#111" stroke-width="1.1"/>
<circle cx="200.80" cy="362.60" r="1.3" fill="#111"/>
<line x1="211.65" y1="447.4" x2="211.65" y2="451" stroke="#555" stroke-width="0.8"/>
<text transform="translate(215.85,455.6) rotate(-45)" font-size="6.8" text-anchor="end" fill="#333" font-family="Liberation Sans, sans-serif" stroke="#333" stroke-width="0.2">XRCC3</text>
<text x="211.65" y="271.6" font-size="5.9" text-anchor="middle" fill="#333" stroke="#333" stroke-width="0.15" font-family="Liberation Sans, sans-serif">****</text>
<line x1="209.20" y1="334.30" x2="209.20" y2="364.70" stroke="#222" stroke-width="1"/>
<line x1="209.20" y1="385.50" x2="209.20" y2="413.80" stroke="#222" stroke-width="1"/>
<rect x="206.55" y="364.70" width="5.30" height="20.80" fill="#FFA500" stroke="#222" stroke-width="0.9"/>
<line x1="206.55" y1="375.30" x2="211.85" y2="375.30" stroke="#111" stroke-width="1.1"/>
<circle cx="209.20" cy="417.00" r="1.3" fill="#111"/>
<circle cx="209.20" cy="419.00" r="1.3" fill="#111"/>
<circle cx="209.20" cy="424.50" r="1.3" fill="#111"/>
<circle cx="209.20" cy="428.60" r="1.3" fill="#111"/>
<line x1="214.75" y1="343.50" x2="214.75" y2="373.20" stroke="#222" stroke-width="1"/>
<line x1="214.75" y1="395.00" x2="214.75" y2="419.90" stroke="#222" stroke-width="1"/>
<rect x="212.10" y="373.20" width="5.30" height="21.80" fill="#6CBB5A" stroke="#222" stroke-width="0.9"/>
<line x1="212.10" y1="386.20" x2="217.40" y2="386.20" stroke="#111" stroke-width="1.1"/>
<circle cx="214.75" cy="330.60" r="1.3" fill="#111"/>
<line x1="225.60" y1="447.4" x2="225.60" y2="451" stroke="#555" stroke-width="0.8"/>
<text transform="translate(229.80,455.6) rotate(-45)" font-size="6.8" text-anchor="end" fill="#333" font-family="Liberation Sans, sans-serif" stroke="#333" stroke-width="0.2">CHEK1</text>
<text x="225.60" y="271.6" font-size="5.9" text-anchor="middle" fill="#333" stroke="#333" stroke-width="0.15" font-family="Liberation Sans, sans-serif">****</text>
<line x1="223.15" y1="304.20" x2="223.15" y2="339.10" stroke="#222" stroke-width="1"/>
<line x1="223.15" y1="363.80" x2="223.15" y2="392.90" stroke="#222" stroke-width="1"/>
<rect x="220.50" y="339.10" width="5.30" height="24.70" fill="#FFA500" stroke="#222" stroke-width="0.9"/>
<line x1="220.50" y1="352.40" x2="225.80" y2="352.40" stroke="#111" stroke-width="1.1"/>
<circle cx="223.15" cy="279.10" r="1.3" fill="#111"/>
<circle cx="223.15" cy="295.90" r="1.3" fill="#111"/>
<circle cx="223.15" cy="403.20" r="1.3" fill="#111"/>
<line x1="228.70" y1="356.80" x2="228.70" y2="381.50" stroke="#222" stroke-width="1"/>
<line x1="228.70" y1="399.50" x2="228.70" y2="417.40" stroke="#222" stroke-width="1"/>
<rect x="226.05" y="381.50" width="5.30" height="18.00" fill="#6CBB5A" stroke="#222" stroke-width="0.9"/>
<line x1="226.05" y1="388.50" x2="231.35" y2="388.50" stroke="#111" stroke-width="1.1"/>
<line x1="239.55" y1="447.4" x2="239.55" y2="451" stroke="#555" stroke-width="0.8"/>
<text transform="translate(243.75,455.6) rotate(-45)" font-size="6.8" text-anchor="end" fill="#333" font-family="Liberation Sans, sans-serif" stroke="#333" stroke-width="0.2">CHEK2</text>
<text x="239.55" y="271.6" font-size="5.9" text-anchor="middle" fill="#333" stroke="#333" stroke-width="0.15" font-family="Liberation Sans, sans-serif">****</text>
<line x1="237.10" y1="312.30" x2="237.10" y2="342.60" stroke="#222" stroke-width="1"/>
<line x1="237.10" y1="363.80" x2="237.10" y2="392.00" stroke="#222" stroke-width="1"/>
<rect x="234.45" y="342.60" width="5.30" height="21.20" fill="#FFA500" stroke="#222" stroke-width="0.9"/>
<line x1="234.45" y1="354.10" x2="239.75" y2="354.10" stroke="#111" stroke-width="1.1"/>
<circle cx="237.10" cy="273.50" r="1.3" fill="#111"/>
<circle cx="237.10" cy="286.70" r="1.3" fill="#111"/>
<circle cx="237.10" cy="294.60" r="1.3" fill="#111"/>
<circle cx="237.10" cy="305.20" r="1.3" fill="#111"/>
<circle cx="237.10" cy="400.00" r="1.3" fill="#111"/>
<line x1="242.65" y1="347.00" x2="242.65" y2="365.60" stroke="#222" stroke-width="1"/>
<line x1="242.65" y1="382.00" x2="242.65" y2="406.00" stroke="#222" stroke-width="1"/>
<rect x="240.00" y="365.60" width="5.30" height="16.40" fill="#6CBB5A" stroke="#222" stroke-width="0.9"/>
<line x1="240.00" y1="374.40" x2="245.30" y2="374.40" stroke="#111" stroke-width="1.1"/>
<line x1="253.50" y1="447.4" x2="253.50" y2="451" stroke="#555" stroke-width="0.8"/>
<text transform="translate(257.70,455.6) rotate(-45)" font-size="6.8" text-anchor="end" fill="#333" font-family="Liberation Sans, sans-serif" stroke="#333" stroke-width="0.2">FANCA</text>
<text x="253.50" y="271.6" font-size="5.9" text-anchor="middle" fill="#333" stroke="#333" stroke-width="0.15" font-family="Liberation Sans, sans-serif">****</text>
<line x1="251.05" y1="332.40" x2="251.05" y2="364.70" stroke="#222" stroke-width="1"/>
<line x1="251.05" y1="387.60" x2="251.05" y2="417.40" stroke="#222" stroke-width="1"/>
<rect x="248.40" y="364.70" width="5.30" height="22.90" fill="#FFA500" stroke="#222" stroke-width="0.9"/>
<line x1="248.40" y1="377.00" x2="253.70" y2="377.00" stroke="#111" stroke-width="1.1"/>
<circle cx="251.05" cy="322.40" r="1.3" fill="#111"/>
<circle cx="251.05" cy="327.60" r="1.3" fill="#111"/>
<line x1="256.60" y1="367.40" x2="256.60" y2="390.60" stroke="#222" stroke-width="1"/>
<line x1="256.60" y1="406.20" x2="256.60" y2="425.70" stroke="#222" stroke-width="1"/>
<rect x="253.95" y="390.60" width="5.30" height="15.60" fill="#6CBB5A" stroke="#222" stroke-width="0.9"/>
<line x1="253.95" y1="399.10" x2="259.25" y2="399.10" stroke="#111" stroke-width="1.1"/>
<circle cx="256.60" cy="361.20" r="1.3" fill="#111"/>
<circle cx="256.60" cy="366.10" r="1.3" fill="#111"/>
<circle cx="256.60" cy="430.60" r="1.3" fill="#111"/>
<line x1="267.45" y1="447.4" x2="267.45" y2="451" stroke="#555" stroke-width="0.8"/>
<text transform="translate(271.65,455.6) rotate(-45)" font-size="6.8" text-anchor="end" fill="#333" font-family="Liberation Sans, sans-serif" stroke="#333" stroke-width="0.2">FANCB</text>
<text x="267.45" y="271.6" font-size="5.9" text-anchor="middle" fill="#333" stroke="#333" stroke-width="0.15" font-family="Liberation Sans, sans-serif">****</text>
<line x1="265.00" y1="370.00" x2="265.00" y2="397.40" stroke="#222" stroke-width="1"/>
<line x1="265.00" y1="417.40" x2="265.00" y2="436.10" stroke="#222" stroke-width="1"/>
<rect x="262.35" y="397.40" width="5.30" height="20.00" fill="#FFA500" stroke="#222" stroke-width="0.9"/>
<line x1="262.35" y1="409.20" x2="267.65" y2="409.20" stroke="#111" stroke-width="1.1"/>
<circle cx="265.00" cy="365.60" r="1.3" fill="#111"/>
<line x1="270.55" y1="406.20" x2="270.55" y2="419.60" stroke="#222" stroke-width="1"/>
<line x1="270.55" y1="428.90" x2="270.55" y2="439.30" stroke="#222" stroke-width="1"/>
<rect x="267.90" y="419.60" width="5.30" height="9.30" fill="#6CBB5A" stroke="#222" stroke-width="0.9"/>
<line x1="267.90" y1="425.10" x2="273.20" y2="425.10" stroke="#111" stroke-width="1.1"/>
<circle cx="270.55" cy="402.00" r="1.3" fill="#111"/>
<circle cx="270.55" cy="403.50" r="1.3" fill="#111"/>
<circle cx="270.55" cy="404.90" r="1.3" fill="#111"/>
<line x1="281.40" y1="447.4" x2="281.40" y2="451" stroke="#555" stroke-width="0.8"/>
<text transform="translate(285.60,455.6) rotate(-45)" font-size="6.8" text-anchor="end" fill="#333" font-family="Liberation Sans, sans-serif" stroke="#333" stroke-width="0.2">FANCC</text>
<text x="281.40" y="271.6" font-size="5.9" text-anchor="middle" fill="#333" stroke="#333" stroke-width="0.15" font-family="Liberation Sans, sans-serif">****</text>
<line x1="278.95" y1="362.00" x2="278.95" y2="382.00" stroke="#222" stroke-width="1"/>
<line x1="278.95" y1="396.50" x2="278.95" y2="414.70" stroke="#222" stroke-width="1"/>
<rect x="276.30" y="382.00" width="5.30" height="14.50" fill="#FFA500" stroke="#222" stroke-width="0.9"/>
<line x1="276.30" y1="389.40" x2="281.60" y2="389.40" stroke="#111" stroke-width="1.1"/>
<circle cx="278.95" cy="350.60" r="1.3" fill="#111"/>
<circle cx="278.95" cy="352.50" r="1.3" fill="#111"/>
<circle cx="278.95" cy="354.50" r="1.3" fill="#111"/>
<circle cx="278.95" cy="356.50" r="1.3" fill="#111"/>
<circle cx="278.95" cy="358.50" r="1.3" fill="#111"/>
<circle cx="278.95" cy="360.30" r="1.3" fill="#111"/>
<circle cx="278.95" cy="420.20" r="1.3" fill="#111"/>
<line x1="284.50" y1="375.30" x2="284.50" y2="390.30" stroke="#222" stroke-width="1"/>
<line x1="284.50" y1="402.10" x2="284.50" y2="414.70" stroke="#222" stroke-width="1"/>
<rect x="281.85" y="390.30" width="5.30" height="11.80" fill="#6CBB5A" stroke="#222" stroke-width="0.9"/>
<line x1="281.85" y1="396.00" x2="287.15" y2="396.00" stroke="#111" stroke-width="1.1"/>
<circle cx="284.50" cy="366.50" r="1.3" fill="#111"/>
<text x="299.6" y="347" font-size="8" fill="#222" font-family="Liberation Sans, sans-serif" stroke="#222" stroke-width="0.2">group</text>
<line x1="304.1" y1="353.90" x2="304.1" y2="360.90" stroke="#333" stroke-width="0.7"/>
<rect x="300.6" y="354.90" width="7" height="5" fill="#FFA500" stroke="#333" stroke-width="0.7"/>
<line x1="300.6" y1="357.40" x2="307.6" y2="357.40" stroke="#111" stroke-width="0.9"/>
<line x1="304.1" y1="362.80" x2="304.1" y2="369.80" stroke="#333" stroke-width="0.7"/>
<rect x="300.6" y="363.80" width="7" height="5" fill="#6CBB5A" stroke="#333" stroke-width="0.7"/>
<line x1="300.6" y1="366.30" x2="307.6" y2="366.30" stroke="#111" stroke-width="0.9"/>
<text x="312.9" y="360" font-size="6.9" fill="#333" font-family="Liberation Sans, sans-serif" stroke="#333" stroke-width="0.2">Cluster1</text>
<text x="312.9" y="368.9" font-size="6.9" fill="#333" font-family="Liberation Sans, sans-serif" stroke="#333" stroke-width="0.2">Cluster2</text>
<text x="390.3" y="250" font-size="10" font-weight="bold" stroke="#000" stroke-width="0.3" font-family="Liberation Sans, sans-serif">e</text>
<line x1="442.9" y1="270.5" x2="425.5" y2="280.8" stroke="#A5A5A5" stroke-width="1.7" stroke-opacity="0.72"/>
<line x1="442.9" y1="270.5" x2="457.7" y2="282.7" stroke="#A5A5A5" stroke-width="1.7" stroke-opacity="0.72"/>
<line x1="442.9" y1="270.5" x2="479.7" y2="294.8" stroke="#A5A5A5" stroke-width="1.7" stroke-opacity="0.72"/>
<line x1="442.9" y1="270.5" x2="495.6" y2="297.1" stroke="#A5A5A5" stroke-width="1.7" stroke-opacity="0.72"/>
<line x1="442.9" y1="270.5" x2="461.2" y2="307.9" stroke="#A5A5A5" stroke-width="1.7" stroke-opacity="0.72"/>
<line x1="442.9" y1="270.5" x2="439.6" y2="305.2" stroke="#A5A5A5" stroke-width="1.7" stroke-opacity="0.72"/>
<line x1="442.9" y1="270.5" x2="420.8" y2="304.5" stroke="#A5A5A5" stroke-width="1.7" stroke-opacity="0.72"/>
<line x1="442.9" y1="270.5" x2="467.5" y2="321.5" stroke="#A5A5A5" stroke-width="1.7" stroke-opacity="0.72"/>
<line x1="442.9" y1="270.5" x2="438.8" y2="325.0" stroke="#A5A5A5" stroke-width="1.7" stroke-opacity="0.72"/>
<line x1="442.9" y1="270.5" x2="422.1" y2="330.3" stroke="#A5A5A5" stroke-width="1.7" stroke-opacity="0.72"/>
<line x1="442.9" y1="270.5" x2="453.9" y2="333.6" stroke="#A5A5A5" stroke-width="1.7" stroke-opacity="0.72"/>
<line x1="442.9" y1="270.5" x2="441.8" y2="346.4" stroke="#A5A5A5" stroke-width="1.7" stroke-opacity="0.72"/>
<line x1="442.9" y1="270.5" x2="449.4" y2="369.3" stroke="#A5A5A5" stroke-width="1.7" stroke-opacity="0.72"/>
<line x1="442.9" y1="270.5" x2="468.9" y2="372.8" stroke="#A5A5A5" stroke-width="1.7" stroke-opacity="0.72"/>
<line x1="442.9" y1="270.5" x2="438.6" y2="400.2" stroke="#A5A5A5" stroke-width="1.7" stroke-opacity="0.72"/>
<line x1="442.9" y1="270.5" x2="492.1" y2="411.3" stroke="#A5A5A5" stroke-width="1.7" stroke-opacity="0.72"/>
<line x1="442.9" y1="270.5" x2="461.9" y2="421.0" stroke="#A5A5A5" stroke-width="1.7" stroke-opacity="0.72"/>
<line x1="442.9" y1="270.5" x2="494.1" y2="471.2" stroke="#A5A5A5" stroke-width="1.7" stroke-opacity="0.72"/>
<line x1="425.5" y1="280.8" x2="457.7" y2="282.7" stroke="#A5A5A5" stroke-width="1.7" stroke-opacity="0.72"/>
<line x1="425.5" y1="280.8" x2="477.8" y2="275.2" stroke="#A5A5A5" stroke-width="1.7" stroke-opacity="0.72"/>
<line x1="425.5" y1="280.8" x2="479.7" y2="294.8" stroke="#A5A5A5" stroke-width="1.7" stroke-opacity="0.72"/>
<line x1="425.5" y1="280.8" x2="495.6" y2="297.1" stroke="#A5A5A5" stroke-width="1.7" stroke-opacity="0.72"/>
<line x1="425.5" y1="280.8" x2="461.2" y2="307.9" stroke="#A5A5A5" stroke-width="1.7" stroke-opacity="0.72"/>
<line x1="425.5" y1="280.8" x2="439.6" y2="305.2" stroke="#A5A5A5" stroke-width="1.7" stroke-opacity="0.72"/>
<line x1="425.5" y1="280.8" x2="420.8" y2="304.5" stroke="#A5A5A5" stroke-width="1.7" stroke-opacity="0.72"/>
<line x1="425.5" y1="280.8" x2="467.5" y2="321.5" stroke="#A5A5A5" stroke-width="1.7" stroke-opacity="0.72"/>
<line x1="425.5" y1="280.8" x2="409.1" y2="317.0" stroke="#A5A5A5" stroke-width="1.7" stroke-opacity="0.72"/>
<line x1="425.5" y1="280.8" x2="426.8" y2="351.1" stroke="#A5A5A5" stroke-width="1.7" stroke-opacity="0.72"/>
<line x1="425.5" y1="280.8" x2="441.8" y2="346.4" stroke="#A5A5A5" stroke-width="1.7" stroke-opacity="0.72"/>
<line x1="425.5" y1="280.8" x2="490.2" y2="334.2" stroke="#A5A5A5" stroke-width="1.7" stroke-opacity="0.72"/>
<line x1="425.5" y1="280.8" x2="506.1" y2="334.3" stroke="#A5A5A5" stroke-width="1.7" stroke-opacity="0.72"/>
<line x1="425.5" y1="280.8" x2="469.3" y2="355.6" stroke="#A5A5A5" stroke-width="1.7" stroke-opacity="0.72"/>
<line x1="425.5" y1="280.8" x2="468.9" y2="372.8" stroke="#A5A5A5" stroke-width="1.7" stroke-opacity="0.72"/>
<line x1="425.5" y1="280.8" x2="492.1" y2="411.3" stroke="#A5A5A5" stroke-width="1.7" stroke-opacity="0.72"/>
<line x1="425.5" y1="280.8" x2="461.9" y2="421.0" stroke="#A5A5A5" stroke-width="1.7" stroke-opacity="0.72"/>
<line x1="457.7" y1="282.7" x2="477.8" y2="275.2" stroke="#A5A5A5" stroke-width="1.7" stroke-opacity="0.72"/>
<line x1="457.7" y1="282.7" x2="495.6" y2="297.1" stroke="#A5A5A5" stroke-width="1.7" stroke-opacity="0.72"/>
<line x1="457.7" y1="282.7" x2="461.2" y2="307.9" stroke="#A5A5A5" stroke-width="1.7" stroke-opacity="0.72"/>
<line x1="457.7" y1="282.7" x2="439.6" y2="305.2" stroke="#A5A5A5" stroke-width="1.7" stroke-opacity="0.72"/>
<line x1="457.7" y1="282.7" x2="420.8" y2="304.5" stroke="#A5A5A5" stroke-width="1.7" stroke-opacity="0.72"/>
<line x1="457.7" y1="282.7" x2="467.5" y2="321.5" stroke="#A5A5A5" stroke-width="1.7" stroke-opacity="0.72"/>
<line x1="457.7" y1="282.7" x2="409.1" y2="317.0" stroke="#A5A5A5" stroke-width="1.7" stroke-opacity="0.72"/>
<line x1="457.7" y1="282.7" x2="438.8" y2="325.0" stroke="#A5A5A5" stroke-width="1.7" stroke-opacity="0.72"/>
<line x1="457.7" y1="282.7" x2="413.7" y2="343.3" stroke="#A5A5A5" stroke-width="1.7" stroke-opacity="0.72"/>
<line x1="457.7" y1="282.7" x2="426.8" y2="351.1" stroke="#A5A5A5" stroke-width="1.7" stroke-opacity="0.72"/>
<line x1="457.7" y1="282.7" x2="441.8" y2="346.4" stroke="#A5A5A5" stroke-width="1.7" stroke-opacity="0.72"/>
<line x1="457.7" y1="282.7" x2="490.2" y2="334.2" stroke="#A5A5A5" stroke-width="1.7" stroke-opacity="0.72"/>
<line x1="457.7" y1="282.7" x2="493.0" y2="350.2" stroke="#A5A5A5" stroke-width="1.7" stroke-opacity="0.72"/>
<line x1="457.7" y1="282.7" x2="468.9" y2="372.8" stroke="#A5A5A5" stroke-width="1.7" stroke-opacity="0.72"/>
<line x1="457.7" y1="282.7" x2="438.6" y2="400.2" stroke="#A5A5A5" stroke-width="1.7" stroke-opacity="0.72"/>
<line x1="457.7" y1="282.7" x2="461.9" y2="421.0" stroke="#A5A5A5" stroke-width="1.7" stroke-opacity="0.72"/>
<line x1="477.8" y1="275.2" x2="479.7" y2="294.8" stroke="#A5A5A5" stroke-width="1.7" stroke-opacity="0.72"/>
<line x1="477.8" y1="275.2" x2="495.6" y2="297.1" stroke="#A5A5A5" stroke-width="1.7" stroke-opacity="0.72"/>
<line x1="477.8" y1="275.2" x2="439.6" y2="305.2" stroke="#A5A5A5" stroke-width="1.7" stroke-opacity="0.72"/>
<line x1="477.8" y1="275.2" x2="420.8" y2="304.5" stroke="#A5A5A5" stroke-width="1.7" stroke-opacity="0.72"/>
<line x1="477.8" y1="275.2" x2="409.1" y2="317.0" stroke="#A5A5A5" stroke-width="1.7" stroke-opacity="0.72"/>
<line x1="477.8" y1="275.2" x2="438.8" y2="325.0" stroke="#A5A5A5" stroke-width="1.7" stroke-opacity="0.72"/>
<line x1="477.8" y1="275.2" x2="413.7" y2="343.3" stroke="#A5A5A5" stroke-width="1.7" stroke-opacity="0.72"/>
<line x1="477.8" y1="275.2" x2="441.8" y2="346.4" stroke="#A5A5A5" stroke-width="1.7" stroke-opacity="0.72"/>
<line x1="477.8" y1="275.2" x2="490.2" y2="334.2" stroke="#A5A5A5" stroke-width="1.7" stroke-opacity="0.72"/>
<line x1="477.8" y1="275.2" x2="493.0" y2="350.2" stroke="#A5A5A5" stroke-width="1.7" stroke-opacity="0.72"/>
<line x1="477.8" y1="275.2" x2="469.3" y2="355.6" stroke="#A5A5A5" stroke-width="1.7" stroke-opacity="0.72"/>
<line x1="477.8" y1="275.2" x2="449.4" y2="369.3" stroke="#A5A5A5" stroke-width="1.7" stroke-opacity="0.72"/>
<line x1="477.8" y1="275.2" x2="468.9" y2="372.8" stroke="#A5A5A5" stroke-width="1.7" stroke-opacity="0.72"/>
<line x1="477.8" y1="275.2" x2="438.6" y2="400.2" stroke="#A5A5A5" stroke-width="1.7" stroke-opacity="0.72"/>
<line x1="477.8" y1="275.2" x2="461.9" y2="421.0" stroke="#A5A5A5" stroke-width="1.7" stroke-opacity="0.72"/>
<line x1="479.7" y1="294.8" x2="461.2" y2="307.9" stroke="#A5A5A5" stroke-width="1.7" stroke-opacity="0.72"/>
<line x1="479.7" y1="294.8" x2="439.6" y2="305.2" stroke="#A5A5A5" stroke-width="1.7" stroke-opacity="0.72"/>
<line x1="479.7" y1="294.8" x2="467.5" y2="321.5" stroke="#A5A5A5" stroke-width="1.7" stroke-opacity="0.72"/>
<line x1="479.7" y1="294.8" x2="409.1" y2="317.0" stroke="#A5A5A5" stroke-width="1.7" stroke-opacity="0.72"/>
<line x1="479.7" y1="294.8" x2="453.9" y2="333.6" stroke="#A5A5A5" stroke-width="1.7" stroke-opacity="0.72"/>
<line x1="479.7" y1="294.8" x2="413.7" y2="343.3" stroke="#A5A5A5" stroke-width="1.7" stroke-opacity="0.72"/>
<line x1="479.7" y1="294.8" x2="490.2" y2="334.2" stroke="#A5A5A5" stroke-width="1.7" stroke-opacity="0.72"/>
<line x1="479.7" y1="294.8" x2="468.9" y2="372.8" stroke="#A5A5A5" stroke-width="1.7" stroke-opacity="0.72"/>
<line x1="479.7" y1="294.8" x2="490.0" y2="367.5" stroke="#A5A5A5" stroke-width="1.7" stroke-opacity="0.72"/>
<line x1="479.7" y1="294.8" x2="492.1" y2="411.3" stroke="#A5A5A5" stroke-width="1.7" stroke-opacity="0.72"/>
<line x1="479.7" y1="294.8" x2="494.1" y2="471.2" stroke="#A5A5A5" stroke-width="1.7" stroke-opacity="0.72"/>
<line x1="495.6" y1="297.1" x2="461.2" y2="307.9" stroke="#A5A5A5" stroke-width="1.7" stroke-opacity="0.72"/>
<line x1="495.6" y1="297.1" x2="439.6" y2="305.2" stroke="#A5A5A5" stroke-width="1.7" stroke-opacity="0.72"/>
<line x1="495.6" y1="297.1" x2="420.8" y2="304.5" stroke="#A5A5A5" stroke-width="1.7" stroke-opacity="0.72"/>
<line x1="495.6" y1="297.1" x2="467.5" y2="321.5" stroke="#A5A5A5" stroke-width="1.7" stroke-opacity="0.72"/>
<line x1="495.6" y1="297.1" x2="438.8" y2="325.0" stroke="#A5A5A5" stroke-width="1.7" stroke-opacity="0.72"/>
<line x1="495.6" y1="297.1" x2="422.1" y2="330.3" stroke="#A5A5A5" stroke-width="1.7" stroke-opacity="0.72"/>
<line x1="495.6" y1="297.1" x2="441.8" y2="346.4" stroke="#A5A5A5" stroke-width="1.7" stroke-opacity="0.72"/>
<line x1="495.6" y1="297.1" x2="506.1" y2="334.3" stroke="#A5A5A5" stroke-width="1.7" stroke-opacity="0.72"/>
<line x1="495.6" y1="297.1" x2="493.0" y2="350.2" stroke="#A5A5A5" stroke-width="1.7" stroke-opacity="0.72"/>
<line x1="495.6" y1="297.1" x2="469.3" y2="355.6" stroke="#A5A5A5" stroke-width="1.7" stroke-opacity="0.72"/>
<line x1="495.6" y1="297.1" x2="468.9" y2="372.8" stroke="#A5A5A5" stroke-width="1.7" stroke-opacity="0.72"/>
<line x1="495.6" y1="297.1" x2="490.0" y2="367.5" stroke="#A5A5A5" stroke-width="1.7" stroke-opacity="0.72"/>
<line x1="495.6" y1="297.1" x2="438.6" y2="400.2" stroke="#A5A5A5" stroke-width="1.7" stroke-opacity="0.72"/>
<line x1="495.6" y1="297.1" x2="461.9" y2="421.0" stroke="#A5A5A5" stroke-width="1.7" stroke-opacity="0.72"/>
<line x1="495.6" y1="297.1" x2="494.1" y2="471.2" stroke="#A5A5A5" stroke-width="1.7" stroke-opacity="0.72"/>
<line x1="461.2" y1="307.9" x2="467.5" y2="321.5" stroke="#A5A5A5" stroke-width="1.7" stroke-opacity="0.72"/>
<line x1="461.2" y1="307.9" x2="422.1" y2="330.3" stroke="#A5A5A5" stroke-width="1.7" stroke-opacity="0.72"/>
<line x1="461.2" y1="307.9" x2="453.9" y2="333.6" stroke="#A5A5A5" stroke-width="1.7" stroke-opacity="0.72"/>
<line x1="461.2" y1="307.9" x2="413.7" y2="343.3" stroke="#A5A5A5" stroke-width="1.7" stroke-opacity="0.72"/>
<line x1="461.2" y1="307.9" x2="506.1" y2="334.3" stroke="#A5A5A5" stroke-width="1.7" stroke-opacity="0.72"/>
<line x1="461.2" y1="307.9" x2="468.9" y2="372.8" stroke="#A5A5A5" stroke-width="1.7" stroke-opacity="0.72"/>
<line x1="461.2" y1="307.9" x2="438.6" y2="400.2" stroke="#A5A5A5" stroke-width="1.7" stroke-opacity="0.72"/>
<line x1="439.6" y1="305.2" x2="420.8" y2="304.5" stroke="#A5A5A5" stroke-width="1.7" stroke-opacity="0.72"/>
<line x1="439.6" y1="305.2" x2="467.5" y2="321.5" stroke="#A5A5A5" stroke-width="1.7" stroke-opacity="0.72"/>
<line x1="439.6" y1="305.2" x2="422.1" y2="330.3" stroke="#A5A5A5" stroke-width="1.7" stroke-opacity="0.72"/>
<line x1="439.6" y1="305.2" x2="441.8" y2="346.4" stroke="#A5A5A5" stroke-width="1.7" stroke-opacity="0.72"/>
<line x1="439.6" y1="305.2" x2="449.4" y2="369.3" stroke="#A5A5A5" stroke-width="1.7" stroke-opacity="0.72"/>
<line x1="439.6" y1="305.2" x2="438.6" y2="400.2" stroke="#A5A5A5" stroke-width="1.7" stroke-opacity="0.72"/>
<line x1="420.8" y1="304.5" x2="467.5" y2="321.5" stroke="#A5A5A5" stroke-width="1.7" stroke-opacity="0.72"/>
<line x1="420.8" y1="304.5" x2="409.1" y2="317.0" stroke="#A5A5A5" stroke-width="1.7" stroke-opacity="0.72"/>
<line x1="420.8" y1="304.5" x2="426.8" y2="351.1" stroke="#A5A5A5" stroke-width="1.7" stroke-opacity="0.72"/>
<line x1="420.8" y1="304.5" x2="490.2" y2="334.2" stroke="#A5A5A5" stroke-width="1.7" stroke-opacity="0.72"/>
<line x1="420.8" y1="304.5" x2="469.3" y2="355.6" stroke="#A5A5A5" stroke-width="1.7" stroke-opacity="0.72"/>
<line x1="420.8" y1="304.5" x2="492.1" y2="411.3" stroke="#A5A5A5" stroke-width="1.7" stroke-opacity="0.72"/>
<line x1="420.8" y1="304.5" x2="461.9" y2="421.0" stroke="#A5A5A5" stroke-width="1.7" stroke-opacity="0.72"/>
<line x1="420.8" y1="304.5" x2="494.1" y2="471.2" stroke="#A5A5A5" stroke-width="1.7" stroke-opacity="0.72"/>
<line x1="467.5" y1="321.5" x2="438.8" y2="325.0" stroke="#A5A5A5" stroke-width="1.7" stroke-opacity="0.72"/>
<line x1="467.5" y1="321.5" x2="422.1" y2="330.3" stroke="#A5A5A5" stroke-width="1.7" stroke-opacity="0.72"/>
<line x1="467.5" y1="321.5" x2="490.2" y2="334.2" stroke="#A5A5A5" stroke-width="1.7" stroke-opacity="0.72"/>
<line x1="467.5" y1="321.5" x2="493.0" y2="350.2" stroke="#A5A5A5" stroke-width="1.7" stroke-opacity="0.72"/>
<line x1="467.5" y1="321.5" x2="438.6" y2="400.2" stroke="#A5A5A5" stroke-width="1.7" stroke-opacity="0.72"/>
<line x1="467.5" y1="321.5" x2="461.9" y2="421.0" stroke="#A5A5A5" stroke-width="1.7" stroke-opacity="0.72"/>
<line x1="467.5" y1="321.5" x2="494.1" y2="471.2" stroke="#A5A5A5" stroke-width="1.7" stroke-opacity="0.72"/>
<line x1="409.1" y1="317.0" x2="438.8" y2="325.0" stroke="#A5A5A5" stroke-width="1.7" stroke-opacity="0.72"/>
<line x1="409.1" y1="317.0" x2="422.1" y2="330.3" stroke="#A5A5A5" stroke-width="1.7" stroke-opacity="0.72"/>
<line x1="409.1" y1="317.0" x2="453.9" y2="333.6" stroke="#A5A5A5" stroke-width="1.7" stroke-opacity="0.72"/>
<line x1="409.1" y1="317.0" x2="413.7" y2="343.3" stroke="#A5A5A5" stroke-width="1.7" stroke-opacity="0.72"/>
<line x1="409.1" y1="317.0" x2="441.8" y2="346.4" stroke="#A5A5A5" stroke-width="1.7" stroke-opacity="0.72"/>
<line x1="409.1" y1="317.0" x2="490.2" y2="334.2" stroke="#A5A5A5" stroke-width="1.7" stroke-opacity="0.72"/>
<line x1="409.1" y1="317.0" x2="493.0" y2="350.2" stroke="#A5A5A5" stroke-width="1.7" stroke-opacity="0.72"/>
<line x1="409.1" y1="317.0" x2="469.3" y2="355.6" stroke="#A5A5A5" stroke-width="1.7" stroke-opacity="0.72"/>
<line x1="409.1" y1="317.0" x2="449.4" y2="369.3" stroke="#A5A5A5" stroke-width="1.7" stroke-opacity="0.72"/>
<line x1="409.1" y1="317.0" x2="438.6" y2="400.2" stroke="#A5A5A5" stroke-width="1.7" stroke-opacity="0.72"/>
<line x1="438.8" y1="325.0" x2="422.1" y2="330.3" stroke="#A5A5A5" stroke-width="1.7" stroke-opacity="0.72"/>
<line x1="438.8" y1="325.0" x2="453.9" y2="333.6" stroke="#A5A5A5" stroke-width="1.7" stroke-opacity="0.72"/>
<line x1="438.8" y1="325.0" x2="426.8" y2="351.1" stroke="#A5A5A5" stroke-width="1.7" stroke-opacity="0.72"/>
<line x1="438.8" y1="325.0" x2="441.8" y2="346.4" stroke="#A5A5A5" stroke-width="1.7" stroke-opacity="0.72"/>
<line x1="438.8" y1="325.0" x2="506.1" y2="334.3" stroke="#A5A5A5" stroke-width="1.7" stroke-opacity="0.72"/>
<line x1="438.8" y1="325.0" x2="469.3" y2="355.6" stroke="#A5A5A5" stroke-width="1.7" stroke-opacity="0.72"/>
<line x1="438.8" y1="325.0" x2="449.4" y2="369.3" stroke="#A5A5A5" stroke-width="1.7" stroke-opacity="0.72"/>
<line x1="438.8" y1="325.0" x2="490.0" y2="367.5" stroke="#A5A5A5" stroke-width="1.7" stroke-opacity="0.72"/>
<line x1="438.8" y1="325.0" x2="492.1" y2="411.3" stroke="#A5A5A5" stroke-width="1.7" stroke-opacity="0.72"/>
<line x1="438.8" y1="325.0" x2="461.9" y2="421.0" stroke="#A5A5A5" stroke-width="1.7" stroke-opacity="0.72"/>
<line x1="438.8" y1="325.0" x2="494.1" y2="471.2" stroke="#A5A5A5" stroke-width="1.7" stroke-opacity="0.72"/>
<line x1="422.1" y1="330.3" x2="453.9" y2="333.6" stroke="#A5A5A5" stroke-width="1.7" stroke-opacity="0.72"/>
<line x1="422.1" y1="330.3" x2="413.7" y2="343.3" stroke="#A5A5A5" stroke-width="1.7" stroke-opacity="0.72"/>
<line x1="422.1" y1="330.3" x2="426.8" y2="351.1" stroke="#A5A5A5" stroke-width="1.7" stroke-opacity="0.72"/>
<line x1="422.1" y1="330.3" x2="441.8" y2="346.4" stroke="#A5A5A5" stroke-width="1.7" stroke-opacity="0.72"/>
<line x1="422.1" y1="330.3" x2="469.3" y2="355.6" stroke="#A5A5A5" stroke-width="1.7" stroke-opacity="0.72"/>
<line x1="422.1" y1="330.3" x2="468.9" y2="372.8" stroke="#A5A5A5" stroke-width="1.7" stroke-opacity="0.72"/>
<line x1="422.1" y1="330.3" x2="490.0" y2="367.5" stroke="#A5A5A5" stroke-width="1.7" stroke-opacity="0.72"/>
<line x1="422.1" y1="330.3" x2="461.9" y2="421.0" stroke="#A5A5A5" stroke-width="1.7" stroke-opacity="0.72"/>
<line x1="422.1" y1="330.3" x2="494.1" y2="471.2" stroke="#A5A5A5" stroke-width="1.7" stroke-opacity="0.72"/>
<line x1="453.9" y1="333.6" x2="413.7" y2="343.3" stroke="#A5A5A5" stroke-width="1.7" stroke-opacity="0.72"/>
<line x1="453.9" y1="333.6" x2="426.8" y2="351.1" stroke="#A5A5A5" stroke-width="1.7" stroke-opacity="0.72"/>
<line x1="453.9" y1="333.6" x2="441.8" y2="346.4" stroke="#A5A5A5" stroke-width="1.7" stroke-opacity="0.72"/>
<line x1="453.9" y1="333.6" x2="493.0" y2="350.2" stroke="#A5A5A5" stroke-width="1.7" stroke-opacity="0.72"/>
<line x1="453.9" y1="333.6" x2="468.9" y2="372.8" stroke="#A5A5A5" stroke-width="1.7" stroke-opacity="0.72"/>
<line x1="453.9" y1="333.6" x2="492.1" y2="411.3" stroke="#A5A5A5" stroke-width="1.7" stroke-opacity="0.72"/>
<line x1="413.7" y1="343.3" x2="441.8" y2="346.4" stroke="#A5A5A5" stroke-width="1.7" stroke-opacity="0.72"/>
<line x1="413.7" y1="343.3" x2="490.0" y2="367.5" stroke="#A5A5A5" stroke-width="1.7" stroke-opacity="0.72"/>
<line x1="426.8" y1="351.1" x2="441.8" y2="346.4" stroke="#A5A5A5" stroke-width="1.7" stroke-opacity="0.72"/>
<line x1="426.8" y1="351.1" x2="468.9" y2="372.8" stroke="#A5A5A5" stroke-width="1.7" stroke-opacity="0.72"/>
<line x1="426.8" y1="351.1" x2="492.1" y2="411.3" stroke="#A5A5A5" stroke-width="1.7" stroke-opacity="0.72"/>
<line x1="426.8" y1="351.1" x2="461.9" y2="421.0" stroke="#A5A5A5" stroke-width="1.7" stroke-opacity="0.72"/>
<line x1="441.8" y1="346.4" x2="469.3" y2="355.6" stroke="#A5A5A5" stroke-width="1.7" stroke-opacity="0.72"/>
<line x1="441.8" y1="346.4" x2="468.9" y2="372.8" stroke="#A5A5A5" stroke-width="1.7" stroke-opacity="0.72"/>
<line x1="441.8" y1="346.4" x2="438.6" y2="400.2" stroke="#A5A5A5" stroke-width="1.7" stroke-opacity="0.72"/>
<line x1="441.8" y1="346.4" x2="492.1" y2="411.3" stroke="#A5A5A5" stroke-width="1.7" stroke-opacity="0.72"/>
<line x1="441.8" y1="346.4" x2="494.1" y2="471.2" stroke="#A5A5A5" stroke-width="1.7" stroke-opacity="0.72"/>
<line x1="490.2" y1="334.2" x2="506.1" y2="334.3" stroke="#A5A5A5" stroke-width="1.7" stroke-opacity="0.72"/>
<line x1="490.2" y1="334.2" x2="493.0" y2="350.2" stroke="#A5A5A5" stroke-width="1.7" stroke-opacity="0.72"/>
<line x1="490.2" y1="334.2" x2="469.3" y2="355.6" stroke="#A5A5A5" stroke-width="1.7" stroke-opacity="0.72"/>
<line x1="490.2" y1="334.2" x2="449.4" y2="369.3" stroke="#A5A5A5" stroke-width="1.7" stroke-opacity="0.72"/>
<line x1="490.2" y1="334.2" x2="468.9" y2="372.8" stroke="#A5A5A5" stroke-width="1.7" stroke-opacity="0.72"/>
<line x1="490.2" y1="334.2" x2="461.9" y2="421.0" stroke="#A5A5A5" stroke-width="1.7" stroke-opacity="0.72"/>
<line x1="490.2" y1="334.2" x2="494.1" y2="471.2" stroke="#A5A5A5" stroke-width="1.7" stroke-opacity="0.72"/>
<line x1="506.1" y1="334.3" x2="493.0" y2="350.2" stroke="#A5A5A5" stroke-width="1.7" stroke-opacity="0.72"/>
<line x1="506.1" y1="334.3" x2="469.3" y2="355.6" stroke="#A5A5A5" stroke-width="1.7" stroke-opacity="0.72"/>
<line x1="506.1" y1="334.3" x2="449.4" y2="369.3" stroke="#A5A5A5" stroke-width="1.7" stroke-opacity="0.72"/>
<line x1="506.1" y1="334.3" x2="468.9" y2="372.8" stroke="#A5A5A5" stroke-width="1.7" stroke-opacity="0.72"/>
<line x1="506.1" y1="334.3" x2="490.0" y2="367.5" stroke="#A5A5A5" stroke-width="1.7" stroke-opacity="0.72"/>
<line x1="506.1" y1="334.3" x2="461.9" y2="421.0" stroke="#A5A5A5" stroke-width="1.7" stroke-opacity="0.72"/>
<line x1="506.1" y1="334.3" x2="494.1" y2="471.2" stroke="#A5A5A5" stroke-width="1.7" stroke-opacity="0.72"/>
<line x1="493.0" y1="350.2" x2="469.3" y2="355.6" stroke="#A5A5A5" stroke-width="1.7" stroke-opacity="0.72"/>
<line x1="493.0" y1="350.2" x2="468.9" y2="372.8" stroke="#A5A5A5" stroke-width="1.7" stroke-opacity="0.72"/>
<line x1="493.0" y1="350.2" x2="494.1" y2="471.2" stroke="#A5A5A5" stroke-width="1.7" stroke-opacity="0.72"/>
<line x1="469.3" y1="355.6" x2="449.4" y2="369.3" stroke="#A5A5A5" stroke-width="1.7" stroke-opacity="0.72"/>
<line x1="469.3" y1="355.6" x2="468.9" y2="372.8" stroke="#A5A5A5" stroke-width="1.7" stroke-opacity="0.72"/>
<line x1="469.3" y1="355.6" x2="490.0" y2="367.5" stroke="#A5A5A5" stroke-width="1.7" stroke-opacity="0.72"/>
<line x1="469.3" y1="355.6" x2="438.6" y2="400.2" stroke="#A5A5A5" stroke-width="1.7" stroke-opacity="0.72"/>
<line x1="469.3" y1="355.6" x2="494.1" y2="471.2" stroke="#A5A5A5" stroke-width="1.7" stroke-opacity="0.72"/>
<line x1="449.4" y1="369.3" x2="468.9" y2="372.8" stroke="#A5A5A5" stroke-width="1.7" stroke-opacity="0.72"/>
<line x1="449.4" y1="369.3" x2="490.0" y2="367.5" stroke="#A5A5A5" stroke-width="1.7" stroke-opacity="0.72"/>
<line x1="449.4" y1="369.3" x2="461.9" y2="421.0" stroke="#A5A5A5" stroke-width="1.7" stroke-opacity="0.72"/>
<line x1="468.9" y1="372.8" x2="490.0" y2="367.5" stroke="#A5A5A5" stroke-width="1.7" stroke-opacity="0.72"/>
<line x1="468.9" y1="372.8" x2="461.9" y2="421.0" stroke="#A5A5A5" stroke-width="1.7" stroke-opacity="0.72"/>
<line x1="490.0" y1="367.5" x2="438.6" y2="400.2" stroke="#A5A5A5" stroke-width="1.7" stroke-opacity="0.72"/>
<line x1="438.6" y1="400.2" x2="492.1" y2="411.3" stroke="#A5A5A5" stroke-width="1.7" stroke-opacity="0.72"/>
<line x1="438.6" y1="400.2" x2="461.9" y2="421.0" stroke="#A5A5A5" stroke-width="1.7" stroke-opacity="0.72"/>
<line x1="438.6" y1="400.2" x2="494.1" y2="471.2" stroke="#A5A5A5" stroke-width="1.7" stroke-opacity="0.72"/>
<line x1="492.1" y1="411.3" x2="461.9" y2="421.0" stroke="#A5A5A5" stroke-width="1.7" stroke-opacity="0.72"/>
<line x1="461.9" y1="421.0" x2="494.1" y2="471.2" stroke="#A5A5A5" stroke-width="1.7" stroke-opacity="0.72"/>
<ellipse cx="461.3" cy="294.5" rx="46.8" ry="35.2" transform="rotate(23.6 461.3 294.5)" fill="#4EC3F2" fill-opacity="0.42" stroke="#1AAEEC" stroke-width="0.9"/>
<ellipse cx="429.5" cy="328.5" rx="36.6" ry="31.3" transform="rotate(42.8 429.5 328.5)" fill="#2FBF98" fill-opacity="0.42" stroke="#22B68C" stroke-width="0.9"/>
<ellipse cx="480.0" cy="357.0" rx="45.1" ry="23.5" transform="rotate(-35.1 480.0 357.0)" fill="#E88BEC" fill-opacity="0.42" stroke="#DF6AE6" stroke-width="0.9"/>
<ellipse cx="476.1" cy="426.3" rx="61.7" ry="34.2" transform="rotate(52.7 476.1 426.3)" fill="#F8A59E" fill-opacity="0.42" stroke="#EE7F76" stroke-width="0.9"/>
<line x1="556.8" y1="283.5" x2="562.6" y2="331.7" stroke="#B9B24A" stroke-width="21.2" stroke-linecap="round"/>
<line x1="556.8" y1="283.5" x2="562.6" y2="331.7" stroke="#E8E5BE" stroke-width="19.8" stroke-linecap="round"/>
<line x1="556.8" y1="283.5" x2="562.6" y2="331.7" stroke="#A9A98E" stroke-width="1.8"/>
<circle cx="442.9" cy="270.5" r="4.3" fill="#FF0000" stroke="#222" stroke-width="0.7"/>
<circle cx="425.5" cy="280.8" r="4.7" fill="#E8003A" stroke="#222" stroke-width="0.7"/>
<circle cx="457.7" cy="282.7" r="4.7" fill="#FF0000" stroke="#222" stroke-width="0.7"/>
<circle cx="477.8" cy="275.2" r="5.5" fill="#FF0000" stroke="#222" stroke-width="0.7"/>
<circle cx="479.7" cy="294.8" r="5.0" fill="#FF0000" stroke="#222" stroke-width="0.7"/>
<circle cx="495.6" cy="297.1" r="5.2" fill="#FF0000" stroke="#222" stroke-width="0.7"/>
<circle cx="461.2" cy="307.9" r="3.7" fill="#2200FF" stroke="#222" stroke-width="0.7"/>
<circle cx="439.6" cy="305.2" r="3.9" fill="#FF0000" stroke="#222" stroke-width="0.7"/>
<circle cx="420.8" cy="304.5" r="3.3" fill="#F00020" stroke="#222" stroke-width="0.7"/>
<circle cx="467.5" cy="321.5" r="3.8" fill="#FF0000" stroke="#222" stroke-width="0.7"/>
<circle cx="409.1" cy="317.0" r="3.1" fill="#C8007A" stroke="#222" stroke-width="0.7"/>
<circle cx="438.8" cy="325.0" r="3.5" fill="#FF0000" stroke="#222" stroke-width="0.7"/>
<circle cx="422.1" cy="330.3" r="3.3" fill="#FF0000" stroke="#222" stroke-width="0.7"/>
<circle cx="453.9" cy="333.6" r="3.5" fill="#FF0000" stroke="#222" stroke-width="0.7"/>
<circle cx="413.7" cy="343.3" r="3.5" fill="#FF0000" stroke="#222" stroke-width="0.7"/>
<circle cx="426.8" cy="351.1" r="3.5" fill="#FF0000" stroke="#222" stroke-width="0.7"/>
<circle cx="441.8" cy="346.4" r="3.5" fill="#FF0000" stroke="#222" stroke-width="0.7"/>
<circle cx="490.2" cy="334.2" r="6.0" fill="#FF0000" stroke="#222" stroke-width="0.7"/>
<circle cx="506.1" cy="334.3" r="5.9" fill="#FF0000" stroke="#222" stroke-width="0.7"/>
<circle cx="493.0" cy="350.2" r="5.4" fill="#FF0000" stroke="#222" stroke-width="0.7"/>
<circle cx="469.3" cy="355.6" r="5.0" fill="#FF0000" stroke="#222" stroke-width="0.7"/>
<circle cx="449.4" cy="369.3" r="5.3" fill="#FF0000" stroke="#222" stroke-width="0.7"/>
<circle cx="468.9" cy="372.8" r="5.5" fill="#FF0000" stroke="#222" stroke-width="0.7"/>
<circle cx="490.0" cy="367.5" r="5.8" fill="#FF0000" stroke="#222" stroke-width="0.7"/>
<circle cx="438.6" cy="400.2" r="4.5" fill="#FF0000" stroke="#222" stroke-width="0.7"/>
<circle cx="492.1" cy="411.3" r="4.6" fill="#FF0000" stroke="#222" stroke-width="0.7"/>
<circle cx="461.9" cy="421.0" r="4.0" fill="#FF0000" stroke="#222" stroke-width="0.7"/>
<circle cx="494.1" cy="471.2" r="2.5" fill="#D0006A" stroke="#222" stroke-width="0.7"/>
<circle cx="556.8" cy="283.5" r="4.1" fill="#FF0000" stroke="#222" stroke-width="0.7"/>
<circle cx="562.6" cy="331.7" r="4.6" fill="#FF0000" stroke="#222" stroke-width="0.7"/>
<text x="460.9" y="291.2" font-size="6.3" text-anchor="middle" fill="#333" stroke="#fff" stroke-width="1.8" stroke-opacity="0.6" paint-order="stroke" textLength="73.8" lengthAdjust="spacingAndGlyphs" font-family="Liberation Sans, sans-serif">negative checkpoint phase</text>
<text x="460.8" y="300.0" font-size="6.3" text-anchor="middle" fill="#333" stroke="#fff" stroke-width="1.8" stroke-opacity="0.6" paint-order="stroke" font-family="Liberation Sans, sans-serif">process</text>
<text x="427.3" y="330.1" font-size="6.3" text-anchor="middle" fill="#333" stroke="#fff" stroke-width="1.8" stroke-opacity="0.6" paint-order="stroke" textLength="73.0" lengthAdjust="spacingAndGlyphs" font-family="Liberation Sans, sans-serif">metaphase/anaphase sister</text>
<text x="428.7" y="338.2" font-size="6.3" text-anchor="middle" fill="#333" stroke="#fff" stroke-width="1.8" stroke-opacity="0.6" paint-order="stroke" textLength="57.6" lengthAdjust="spacingAndGlyphs" font-family="Liberation Sans, sans-serif">chromatid separation</text>
<text x="480.7" y="353.3" font-size="6.3" text-anchor="middle" fill="#333" stroke="#fff" stroke-width="1.8" stroke-opacity="0.6" paint-order="stroke" textLength="66.4" lengthAdjust="spacingAndGlyphs" font-family="Liberation Sans, sans-serif">organelle nuclear fission</text>
<text x="480.9" y="361.6" font-size="6.3" text-anchor="middle" fill="#333" stroke="#fff" stroke-width="1.8" stroke-opacity="0.6" paint-order="stroke" font-family="Liberation Sans, sans-serif">segregation</text>
<text x="471.5" y="424.1" font-size="6.3" text-anchor="middle" fill="#333" stroke="#fff" stroke-width="1.8" stroke-opacity="0.6" paint-order="stroke" textLength="51.2" lengthAdjust="spacingAndGlyphs" font-family="Liberation Sans, sans-serif">attachment spindle</text>
<text x="471.8" y="432.9" font-size="6.3" text-anchor="middle" fill="#333" stroke="#fff" stroke-width="1.8" stroke-opacity="0.6" paint-order="stroke" textLength="69.6" lengthAdjust="spacingAndGlyphs" font-family="Liberation Sans, sans-serif">cytoskeleton organization</text>
<text x="550.0" y="310.2" font-size="6.3" text-anchor="middle" fill="#333" stroke="#fff" stroke-width="1.8" stroke-opacity="0.6" paint-order="stroke" textLength="68.3" lengthAdjust="spacingAndGlyphs" font-family="Liberation Sans, sans-serif">DNA−templated DNA rep</text>
<text x="588.8" y="297.9" font-size="6.8" fill="#222" font-family="Liberation Sans, sans-serif" stroke="#222" stroke-width="0.12">number of genes</text>
<rect x="589.2" y="302.1" width="14.2" height="64.3" fill="#EBEBEB" fill-opacity="0.7"/>
<circle cx="595.9" cy="307.6" r="3.9" fill="none" stroke="#333" stroke-width="0.6"/>
<text x="606.8" y="310.0" font-size="6.8" fill="#333" font-family="Liberation Sans, sans-serif" stroke="#333" stroke-width="0.12">20</text>
<circle cx="595.9" cy="319.4" r="4.4" fill="none" stroke="#333" stroke-width="0.6"/>
<text x="606.8" y="321.8" font-size="6.8" fill="#333" font-family="Liberation Sans, sans-serif" stroke="#333" stroke-width="0.12">30</text>
<circle cx="595.9" cy="331.7" r="5.1" fill="none" stroke="#333" stroke-width="0.6"/>
<text x="606.8" y="334.1" font-size="6.8" fill="#333" font-family="Liberation Sans, sans-serif" stroke="#333" stroke-width="0.12">40</text>
<circle cx="595.9" cy="344.9" r="5.8" fill="none" stroke="#333" stroke-width="0.6"/>
<text x="606.8" y="347.3" font-size="6.8" fill="#333" font-family="Liberation Sans, sans-serif" stroke="#333" stroke-width="0.12">50</text>
<circle cx="595.9" cy="359.0" r="6.3" fill="none" stroke="#333" stroke-width="0.6"/>
<text x="606.8" y="361.4" font-size="6.8" fill="#333" font-family="Liberation Sans, sans-serif" stroke="#333" stroke-width="0.12">60</text>
<text x="588.8" y="387.9" font-size="6.8" fill="#222" font-family="Liberation Sans, sans-serif" stroke="#222" stroke-width="0.12">p.adjust</text>
<defs><linearGradient id="pg" x1="0" y1="0" x2="0" y2="1"><stop offset="0" stop-color="#3300FF"/><stop offset="0.5" stop-color="#A000A0"/><stop offset="1" stop-color="#FF0000"/></linearGradient></defs>
<rect x="588.3" y="391.2" width="12.5" height="59.6" fill="url(#pg)"/>
<line x1="588.3" y1="405.3" x2="590.5" y2="405.3" stroke="#fff" stroke-width="0.5" stroke-opacity="0.7"/>
<line x1="598.6" y1="405.3" x2="600.8" y2="405.3" stroke="#fff" stroke-width="0.5" stroke-opacity="0.7"/>
<text x="603.8" y="407.7" font-size="6.9" fill="#333" font-family="Liberation Sans, sans-serif" stroke="#333" stroke-width="0.12">1.5e−13</text>
<line x1="588.3" y1="420.5" x2="590.5" y2="420.5" stroke="#fff" stroke-width="0.5" stroke-opacity="0.7"/>
<line x1="598.6" y1="420.5" x2="600.8" y2="420.5" stroke="#fff" stroke-width="0.5" stroke-opacity="0.7"/>
<text x="603.8" y="422.9" font-size="6.9" fill="#333" font-family="Liberation Sans, sans-serif" stroke="#333" stroke-width="0.12">1.0e−13</text>
<line x1="588.3" y1="435.4" x2="590.5" y2="435.4" stroke="#fff" stroke-width="0.5" stroke-opacity="0.7"/>
<line x1="598.6" y1="435.4" x2="600.8" y2="435.4" stroke="#fff" stroke-width="0.5" stroke-opacity="0.7"/>
<text x="603.8" y="437.8" font-size="6.9" fill="#333" font-family="Liberation Sans, sans-serif" stroke="#333" stroke-width="0.12">5.0e−14</text>
</svg></body></html>
